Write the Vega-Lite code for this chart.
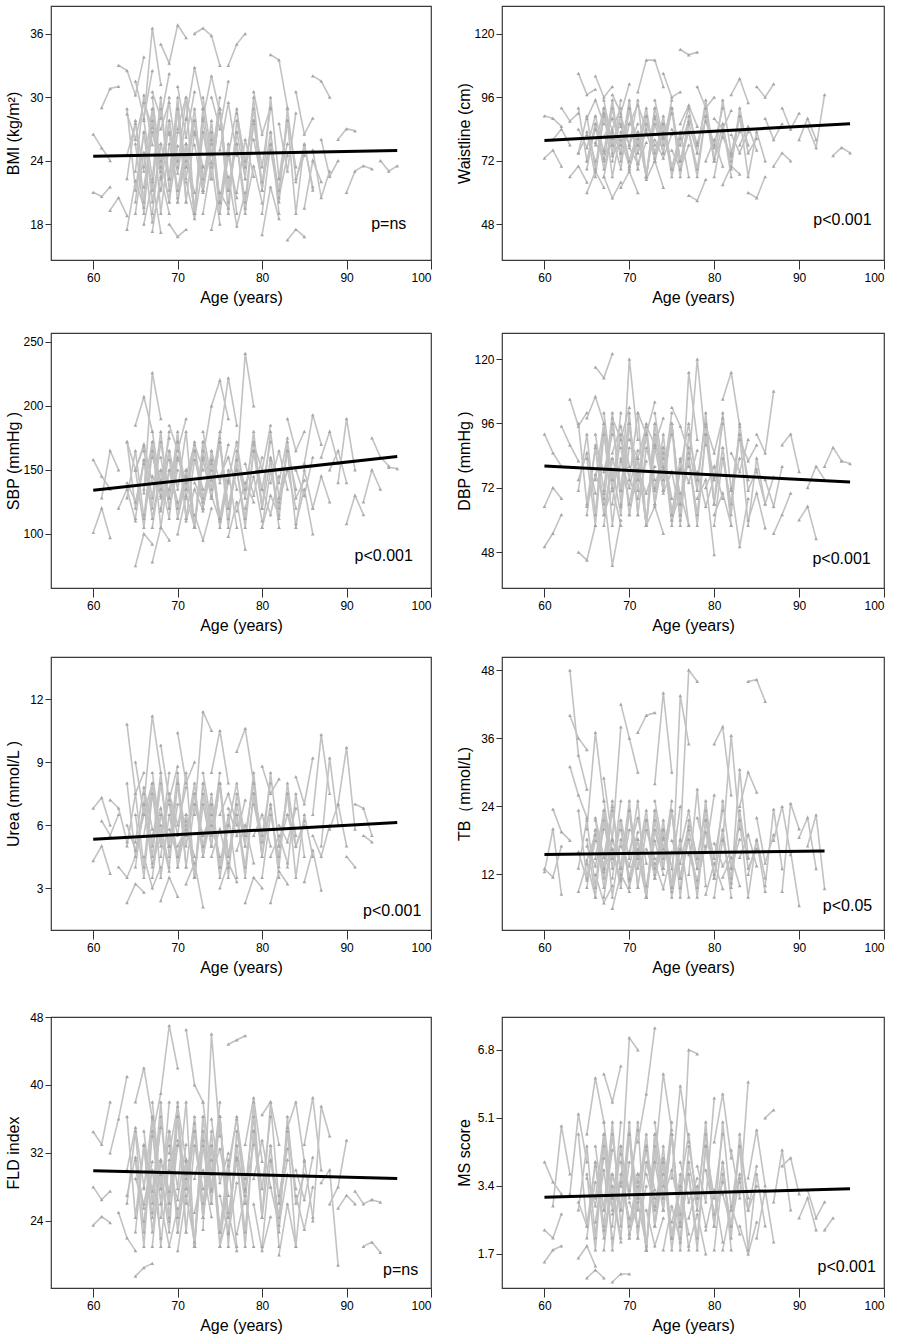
{
  "$schema": "https://vega.github.io/schema/vega-lite/v6.json",
  "padding": {"left": 4, "top": 5, "right": 0, "bottom": 0},
  "background": "white",
  "config": {
    "font": "Liberation Sans",
    "view": {"stroke": "#3a3a3a", "strokeWidth": 1.2},
    "axis": {"grid": false, "domain": false, "labelFont": "Liberation Sans", "labelFontSize": 12, "labelColor": "#000", "titleFont": "Liberation Sans", "titleFontSize": 16, "titleFontWeight": "normal", "titleColor": "#000", "tickColor": "#333"},
    "axisX": {"tickSize": 9, "labelPadding": 3, "titlePadding": 6},
    "axisY": {"tickSize": 6, "labelPadding": 2, "minExtent": 24, "maxExtent": 24, "titlePadding": 6},
    "line": {"color": "#c2c2c2", "strokeWidth": 1.6},
    "concat": {"spacing": 22}
  },
  "datasets": {
    "fit": [
      {"p": "bmi", "a": 60, "v": 24.4}, {"p": "bmi", "a": 96, "v": 24.95},
      {"p": "waist", "a": 60, "v": 79.7}, {"p": "waist", "a": 96, "v": 86.0},
      {"p": "sbp", "a": 60, "v": 134}, {"p": "sbp", "a": 96, "v": 160.5},
      {"p": "dbp", "a": 60, "v": 80.1}, {"p": "dbp", "a": 96, "v": 74.1},
      {"p": "urea", "a": 60, "v": 5.32}, {"p": "urea", "a": 96, "v": 6.12},
      {"p": "tb", "a": 60, "v": 15.5}, {"p": "tb", "a": 93, "v": 16.1},
      {"p": "fld", "a": 60, "v": 29.9}, {"p": "fld", "a": 96, "v": 29.0},
      {"p": "ms", "a": 60, "v": 3.12}, {"p": "ms", "a": 96, "v": 3.33}
    ],
    "lab": [
      {"p": "bmi", "a": 95, "v": 18, "t": "p=ns"},
      {"p": "waist", "a": 95.1, "v": 49.8, "t": "p<0.001"},
      {"p": "sbp", "a": 94.4, "v": 83, "t": "p<0.001"},
      {"p": "dbp", "a": 95.0, "v": 45.4, "t": "p<0.001"},
      {"p": "urea", "a": 95.4, "v": 1.9, "t": "p<0.001"},
      {"p": "tb", "a": 95.7, "v": 6.4, "t": "p<0.05"},
      {"p": "fld", "a": 96.4, "v": 18.2, "t": "p=ns"},
      {"p": "ms", "a": 95.6, "v": 1.38, "t": "p<0.001"}
    ],
    "bmi": [
      {"i":1,"a":60,"v":26.5},{"i":1,"a":61,"v":25.2},{"i":1,"a":62,"v":24.0},
      {"i":2,"a":60,"v":21.0},{"i":2,"a":61,"v":20.6},{"i":2,"a":62,"v":21.5},
      {"i":3,"a":61,"v":29.0},{"i":3,"a":62,"v":30.8},{"i":3,"a":63,"v":31.0},
      {"i":4,"a":62,"v":19.3},{"i":4,"a":63,"v":20.5},{"i":4,"a":64,"v":18.8},
      {"i":5,"a":63,"v":33.0},{"i":5,"a":64,"v":32.5},{"i":5,"a":65,"v":30.2},{"i":5,"a":66,"v":33.8},
      {"i":6,"a":64,"v":17.5},{"i":6,"a":65,"v":22.1},{"i":6,"a":66,"v":19.6},
      {"i":7,"a":64,"v":28.4},{"i":7,"a":65,"v":26.0},{"i":7,"a":66,"v":29.5},{"i":7,"a":67,"v":27.1},
      {"i":8,"a":65,"v":23.0},{"i":8,"a":66,"v":30.2},{"i":8,"a":67,"v":25.5},
      {"i":9,"a":65,"v":19.0},{"i":9,"a":66,"v":24.8},{"i":9,"a":67,"v":18.2},{"i":9,"a":68,"v":21.4},
      {"i":10,"a":66,"v":27.8},{"i":10,"a":67,"v":36.5},{"i":10,"a":68,"v":31.2},
      {"i":11,"a":66,"v":21.5},{"i":11,"a":67,"v":26.7},{"i":11,"a":68,"v":23.0},
      {"i":12,"a":67,"v":17.3},{"i":12,"a":68,"v":22.5},{"i":12,"a":69,"v":19.0},
      {"i":13,"a":67,"v":30.5},{"i":13,"a":68,"v":28.0},{"i":13,"a":69,"v":32.2},
      {"i":14,"a":68,"v":24.0},{"i":14,"a":69,"v":20.1},{"i":14,"a":70,"v":25.4},
      {"i":15,"a":68,"v":35.0},{"i":15,"a":69,"v":33.2},{"i":15,"a":70,"v":36.8},{"i":15,"a":71,"v":35.6},
      {"i":16,"a":69,"v":26.5},{"i":16,"a":70,"v":22.8},{"i":16,"a":71,"v":27.9},
      {"i":17,"a":69,"v":18.0},{"i":17,"a":70,"v":16.8},{"i":17,"a":71,"v":17.5},
      {"i":18,"a":70,"v":31.0},{"i":18,"a":71,"v":26.2},{"i":18,"a":72,"v":30.5},
      {"i":19,"a":70,"v":20.5},{"i":19,"a":71,"v":24.0},{"i":19,"a":72,"v":21.0},
      {"i":20,"a":71,"v":28.0},{"i":20,"a":72,"v":32.8},{"i":20,"a":73,"v":29.0},
      {"i":21,"a":71,"v":22.0},{"i":21,"a":72,"v":18.5},{"i":21,"a":73,"v":23.5},
      {"i":22,"a":72,"v":36.0},{"i":22,"a":73,"v":36.5},{"i":22,"a":74,"v":35.8},{"i":22,"a":75,"v":33.0},
      {"i":23,"a":72,"v":25.5},{"i":23,"a":73,"v":21.0},{"i":23,"a":74,"v":26.0},
      {"i":24,"a":73,"v":19.0},{"i":24,"a":74,"v":23.8},{"i":24,"a":75,"v":18.0},
      {"i":25,"a":74,"v":30.0},{"i":25,"a":75,"v":27.0},{"i":25,"a":76,"v":31.5},
      {"i":26,"a":74,"v":17.5},{"i":26,"a":75,"v":21.0},{"i":26,"a":76,"v":19.5},
      {"i":27,"a":75,"v":25.0},{"i":27,"a":76,"v":29.5},{"i":27,"a":77,"v":24.5},
      {"i":28,"a":76,"v":22.5},{"i":28,"a":77,"v":17.8},{"i":28,"a":78,"v":21.0},
      {"i":29,"a":76,"v":33.0},{"i":29,"a":77,"v":35.0},{"i":29,"a":78,"v":36.0},
      {"i":30,"a":77,"v":28.5},{"i":30,"a":78,"v":24.0},{"i":30,"a":79,"v":27.5},
      {"i":31,"a":78,"v":19.5},{"i":31,"a":79,"v":23.5},{"i":31,"a":80,"v":20.0},
      {"i":32,"a":79,"v":30.5},{"i":32,"a":80,"v":26.5},{"i":32,"a":81,"v":29.0},
      {"i":33,"a":80,"v":17.0},{"i":33,"a":81,"v":21.5},{"i":33,"a":82,"v":18.5},
      {"i":34,"a":81,"v":34.0},{"i":34,"a":82,"v":33.5},{"i":34,"a":83,"v":29.0},
      {"i":35,"a":81,"v":25.0},{"i":35,"a":82,"v":20.5},{"i":35,"a":83,"v":24.5},
      {"i":36,"a":82,"v":27.5},{"i":36,"a":83,"v":23.0},{"i":36,"a":84,"v":28.5},
      {"i":37,"a":83,"v":16.5},{"i":37,"a":84,"v":17.5},{"i":37,"a":85,"v":16.8},
      {"i":38,"a":84,"v":30.5},{"i":38,"a":85,"v":26.5},{"i":38,"a":86,"v":28.0},
      {"i":39,"a":84,"v":22.0},{"i":39,"a":85,"v":25.5},{"i":39,"a":86,"v":21.5},
      {"i":40,"a":85,"v":19.5},{"i":40,"a":86,"v":24.0},{"i":40,"a":87,"v":22.0},
      {"i":41,"a":86,"v":32.0},{"i":41,"a":87,"v":31.5},{"i":41,"a":88,"v":30.0},
      {"i":42,"a":87,"v":26.0},{"i":42,"a":88,"v":22.5},{"i":42,"a":89,"v":24.0},
      {"i":43,"a":89,"v":26.0},{"i":43,"a":90,"v":27.0},{"i":43,"a":91,"v":26.8},
      {"i":44,"a":90,"v":21.0},{"i":44,"a":91,"v":23.0},{"i":44,"a":92,"v":23.5},{"i":44,"a":93,"v":23.2},
      {"i":45,"a":94,"v":24.0},{"i":45,"a":95,"v":23.0},{"i":45,"a":96,"v":23.5},
      {"i":46,"a":64,"v":24.5},{"i":46,"a":65,"v":27.5},{"i":46,"a":66,"v":23.0},
      {"i":47,"a":66,"v":18.0},{"i":47,"a":67,"v":22.0},{"i":47,"a":68,"v":17.2},
      {"i":48,"a":70,"v":27.0},{"i":48,"a":71,"v":30.0},{"i":48,"a":72,"v":26.5},
      {"i":49,"a":73,"v":28.0},{"i":49,"a":74,"v":32.0},{"i":49,"a":75,"v":28.5},
      {"i":50,"a":77,"v":21.0},{"i":50,"a":78,"v":26.0},{"i":50,"a":79,"v":22.5},
      {"i":51,"a":65,"v":31.5},{"i":51,"a":66,"v":28.0},{"i":51,"a":67,"v":32.5},
      {"i":52,"a":68,"v":27.0},{"i":52,"a":69,"v":29.5},{"i":52,"a":70,"v":24.0},
      {"i":53,"a":75,"v":20.0},{"i":53,"a":76,"v":24.5},{"i":53,"a":77,"v":20.5},
      {"i":54,"a":79,"v":26.0},{"i":54,"a":80,"v":22.0},{"i":54,"a":81,"v":25.5},
      {"i":55,"a":86,"v":25.0},{"i":55,"a":87,"v":20.5},{"i":55,"a":88,"v":23.0},
      {"i":101,"a":64,"v":28.9},{"i":101,"a":65,"v":21.2},{"i":101,"a":66,"v":26.7},{"i":101,"a":67,"v":20.1},{"i":101,"a":68,"v":25.6},
      {"i":102,"a":64,"v":22.3},{"i":102,"a":65,"v":27.8},{"i":102,"a":66,"v":20.1},{"i":102,"a":67,"v":28.9},{"i":102,"a":68,"v":23.4},
      {"i":103,"a":65,"v":25.6},{"i":103,"a":66,"v":19.0},{"i":103,"a":67,"v":27.8},{"i":103,"a":68,"v":22.3},{"i":103,"a":69,"v":30.0},
      {"i":104,"a":65,"v":20.1},{"i":104,"a":66,"v":26.7},{"i":104,"a":67,"v":21.2},{"i":104,"a":68,"v":28.9},{"i":104,"a":69,"v":22.3},
      {"i":105,"a":66,"v":27.8},{"i":105,"a":67,"v":22.3},{"i":105,"a":68,"v":30.0},{"i":105,"a":69,"v":21.2},{"i":105,"a":70,"v":26.7},
      {"i":106,"a":66,"v":23.4},{"i":106,"a":67,"v":28.9},{"i":106,"a":68,"v":19.0},{"i":106,"a":69,"v":25.6},{"i":106,"a":70,"v":21.2},
      {"i":107,"a":67,"v":19.0},{"i":107,"a":68,"v":25.6},{"i":107,"a":69,"v":22.3},{"i":107,"a":70,"v":28.9},{"i":107,"a":71,"v":20.1},
      {"i":108,"a":67,"v":30.0},{"i":108,"a":68,"v":23.4},{"i":108,"a":69,"v":27.8},{"i":108,"a":70,"v":20.1},{"i":108,"a":71,"v":24.5},
      {"i":109,"a":68,"v":24.5},{"i":109,"a":69,"v":20.1},{"i":109,"a":70,"v":28.9},{"i":109,"a":71,"v":22.3},{"i":109,"a":72,"v":27.8},
      {"i":110,"a":68,"v":21.2},{"i":110,"a":69,"v":27.8},{"i":110,"a":70,"v":23.4},{"i":110,"a":71,"v":30.0},{"i":110,"a":72,"v":19.0},
      {"i":111,"a":69,"v":26.7},{"i":111,"a":70,"v":21.2},{"i":111,"a":71,"v":25.6},{"i":111,"a":72,"v":19.0},{"i":111,"a":73,"v":28.9},
      {"i":112,"a":69,"v":22.3},{"i":112,"a":70,"v":30.0},{"i":112,"a":71,"v":20.1},{"i":112,"a":72,"v":26.7},{"i":112,"a":73,"v":23.4},
      {"i":113,"a":70,"v":28.9},{"i":113,"a":71,"v":23.4},{"i":113,"a":72,"v":27.8},{"i":113,"a":73,"v":21.2},{"i":113,"a":74,"v":25.6},
      {"i":114,"a":70,"v":20.1},{"i":114,"a":71,"v":25.6},{"i":114,"a":72,"v":19.0},{"i":114,"a":73,"v":27.8},{"i":114,"a":74,"v":22.3},
      {"i":115,"a":71,"v":25.6},{"i":115,"a":72,"v":19.0},{"i":115,"a":73,"v":28.9},{"i":115,"a":74,"v":23.4},{"i":115,"a":75,"v":30.0},
      {"i":116,"a":71,"v":23.4},{"i":116,"a":72,"v":28.9},{"i":116,"a":73,"v":21.2},{"i":116,"a":74,"v":26.7},{"i":116,"a":75,"v":20.1},
      {"i":117,"a":72,"v":27.8},{"i":117,"a":73,"v":22.3},{"i":117,"a":74,"v":26.7},{"i":117,"a":75,"v":19.0},{"i":117,"a":76,"v":24.5},
      {"i":118,"a":72,"v":19.0},{"i":118,"a":73,"v":26.7},{"i":118,"a":74,"v":22.3},{"i":118,"a":75,"v":28.9},{"i":118,"a":76,"v":21.2},
      {"i":119,"a":73,"v":30.0},{"i":119,"a":74,"v":24.5},{"i":119,"a":75,"v":28.9},{"i":119,"a":76,"v":21.2},{"i":119,"a":77,"v":26.7},
      {"i":120,"a":73,"v":21.2},{"i":120,"a":74,"v":27.8},{"i":120,"a":75,"v":20.1},{"i":120,"a":76,"v":25.6},{"i":120,"a":77,"v":19.0},
      {"i":121,"a":74,"v":26.7},{"i":121,"a":75,"v":20.1},{"i":121,"a":76,"v":24.5},{"i":121,"a":77,"v":28.9},{"i":121,"a":78,"v":22.3},
      {"i":122,"a":74,"v":22.3},{"i":122,"a":75,"v":28.9},{"i":122,"a":76,"v":19.0},{"i":122,"a":77,"v":27.8},{"i":122,"a":78,"v":23.4},
      {"i":123,"a":75,"v":28.9},{"i":123,"a":76,"v":21.2},{"i":123,"a":77,"v":25.6},{"i":123,"a":78,"v":20.1},{"i":123,"a":79,"v":27.8},
      {"i":124,"a":76,"v":20.1},{"i":124,"a":77,"v":26.7},{"i":124,"a":78,"v":22.3},{"i":124,"a":79,"v":30.0},{"i":124,"a":80,"v":21.2},
      {"i":125,"a":77,"v":25.6},{"i":125,"a":78,"v":19.0},{"i":125,"a":79,"v":27.8},{"i":125,"a":80,"v":23.4},{"i":125,"a":81,"v":28.9},
      {"i":126,"a":78,"v":23.4},{"i":126,"a":79,"v":28.9},{"i":126,"a":80,"v":21.2},{"i":126,"a":81,"v":26.7},{"i":126,"a":82,"v":19.0},
      {"i":127,"a":79,"v":27.8},{"i":127,"a":80,"v":21.2},{"i":127,"a":81,"v":30.0},{"i":127,"a":82,"v":22.3},{"i":127,"a":83,"v":25.6},
      {"i":128,"a":80,"v":19.0},{"i":128,"a":81,"v":25.6},{"i":128,"a":82,"v":21.2},{"i":128,"a":83,"v":27.8},{"i":128,"a":84,"v":23.4},
      {"i":129,"a":81,"v":26.7},{"i":129,"a":82,"v":20.1},{"i":129,"a":83,"v":28.9},{"i":129,"a":84,"v":22.3},{"i":129,"a":85,"v":24.5},
      {"i":130,"a":82,"v":22.3},{"i":130,"a":83,"v":27.8},{"i":130,"a":84,"v":19.0},{"i":130,"a":85,"v":25.6},{"i":130,"a":86,"v":21.2}
    ],
    "waist": [
      {"i":1,"a":60,"v":89},{"i":1,"a":61,"v":88},{"i":1,"a":62,"v":85},
      {"i":2,"a":60,"v":73},{"i":2,"a":61,"v":76},{"i":2,"a":62,"v":70},
      {"i":3,"a":61,"v":80},{"i":3,"a":62,"v":84},{"i":3,"a":63,"v":78},
      {"i":4,"a":62,"v":92},{"i":4,"a":63,"v":87},{"i":4,"a":64,"v":90},
      {"i":5,"a":63,"v":66},{"i":5,"a":64,"v":70},{"i":5,"a":65,"v":64},
      {"i":6,"a":64,"v":105},{"i":6,"a":65,"v":97},{"i":6,"a":66,"v":99},
      {"i":7,"a":64,"v":75},{"i":7,"a":65,"v":82},{"i":7,"a":66,"v":72},
      {"i":8,"a":65,"v":60},{"i":8,"a":66,"v":68},{"i":8,"a":67,"v":62},
      {"i":9,"a":65,"v":88},{"i":9,"a":66,"v":95},{"i":9,"a":67,"v":86},
      {"i":10,"a":66,"v":104},{"i":10,"a":67,"v":96},{"i":10,"a":68,"v":100},
      {"i":11,"a":66,"v":79},{"i":11,"a":67,"v":73},{"i":11,"a":68,"v":81},
      {"i":12,"a":67,"v":66},{"i":12,"a":68,"v":58},{"i":12,"a":69,"v":64},
      {"i":13,"a":67,"v":90},{"i":13,"a":68,"v":84},{"i":13,"a":69,"v":92},
      {"i":14,"a":68,"v":97},{"i":14,"a":69,"v":90},{"i":14,"a":70,"v":101},
      {"i":15,"a":68,"v":74},{"i":15,"a":69,"v":80},{"i":15,"a":70,"v":70},
      {"i":16,"a":69,"v":62},{"i":16,"a":70,"v":68},{"i":16,"a":71,"v":60},
      {"i":17,"a":70,"v":86},{"i":17,"a":71,"v":93},{"i":17,"a":72,"v":84},
      {"i":18,"a":70,"v":77},{"i":18,"a":71,"v":71},{"i":18,"a":72,"v":79},
      {"i":19,"a":71,"v":98},{"i":19,"a":72,"v":110},{"i":19,"a":73,"v":110},{"i":19,"a":74,"v":100},
      {"i":20,"a":72,"v":65},{"i":20,"a":73,"v":72},{"i":20,"a":74,"v":62},
      {"i":21,"a":73,"v":88},{"i":21,"a":74,"v":81},{"i":21,"a":75,"v":90},
      {"i":22,"a":74,"v":105},{"i":22,"a":75,"v":96},{"i":22,"a":76,"v":98},
      {"i":23,"a":75,"v":76},{"i":23,"a":76,"v":69},{"i":23,"a":77,"v":78},
      {"i":24,"a":76,"v":114},{"i":24,"a":77,"v":112},{"i":24,"a":78,"v":113},
      {"i":25,"a":76,"v":86},{"i":25,"a":77,"v":93},{"i":25,"a":78,"v":85},
      {"i":26,"a":77,"v":59},{"i":26,"a":78,"v":57},{"i":26,"a":79,"v":65},
      {"i":27,"a":78,"v":100},{"i":27,"a":79,"v":92},{"i":27,"a":80,"v":96},
      {"i":28,"a":79,"v":72},{"i":28,"a":80,"v":80},{"i":28,"a":81,"v":70},
      {"i":29,"a":80,"v":88},{"i":29,"a":81,"v":84},{"i":29,"a":82,"v":91},
      {"i":30,"a":81,"v":63},{"i":30,"a":82,"v":70},{"i":30,"a":83,"v":67},
      {"i":31,"a":82,"v":97},{"i":31,"a":83,"v":103},{"i":31,"a":84,"v":94},
      {"i":32,"a":83,"v":78},{"i":32,"a":84,"v":85},{"i":32,"a":85,"v":76},
      {"i":33,"a":84,"v":60},{"i":33,"a":85,"v":58},{"i":33,"a":86,"v":66},
      {"i":34,"a":85,"v":100},{"i":34,"a":86,"v":96},{"i":34,"a":87,"v":101},
      {"i":35,"a":86,"v":88},{"i":35,"a":87,"v":80},{"i":35,"a":88,"v":86},
      {"i":36,"a":87,"v":70},{"i":36,"a":88,"v":75},{"i":36,"a":89,"v":72},
      {"i":37,"a":88,"v":92},{"i":37,"a":89,"v":84},{"i":37,"a":90,"v":90},
      {"i":38,"a":90,"v":80},{"i":38,"a":91,"v":88},{"i":38,"a":92,"v":80},
      {"i":39,"a":91,"v":85},{"i":39,"a":92,"v":77},{"i":39,"a":93,"v":97},
      {"i":40,"a":94,"v":74},{"i":40,"a":95,"v":77},{"i":40,"a":96,"v":75},
      {"i":41,"a":64,"v":84},{"i":41,"a":65,"v":77},{"i":41,"a":66,"v":89},
      {"i":42,"a":67,"v":81},{"i":42,"a":68,"v":88},{"i":42,"a":69,"v":78},
      {"i":43,"a":71,"v":75},{"i":43,"a":72,"v":83},{"i":43,"a":73,"v":73},
      {"i":44,"a":75,"v":84},{"i":44,"a":76,"v":78},{"i":44,"a":77,"v":87},
      {"i":45,"a":78,"v":79},{"i":45,"a":79,"v":87},{"i":45,"a":80,"v":77},
      {"i":46,"a":82,"v":82},{"i":46,"a":83,"v":75},{"i":46,"a":84,"v":83},
      {"i":47,"a":69,"v":85},{"i":47,"a":70,"v":78},{"i":47,"a":71,"v":86},
      {"i":48,"a":73,"v":80},{"i":48,"a":74,"v":73},{"i":48,"a":75,"v":82},
      {"i":49,"a":80,"v":73},{"i":49,"a":81,"v":81},{"i":49,"a":82,"v":74},
      {"i":50,"a":65,"v":72},{"i":50,"a":66,"v":84},{"i":50,"a":67,"v":76},
      {"i":101,"a":64,"v":92},{"i":101,"a":65,"v":72},{"i":101,"a":66,"v":86},{"i":101,"a":67,"v":69},{"i":101,"a":68,"v":83},
      {"i":102,"a":64,"v":75},{"i":102,"a":65,"v":89},{"i":102,"a":66,"v":69},{"i":102,"a":67,"v":92},{"i":102,"a":68,"v":78},
      {"i":103,"a":65,"v":83},{"i":103,"a":66,"v":66},{"i":103,"a":67,"v":89},{"i":103,"a":68,"v":75},{"i":103,"a":69,"v":95},
      {"i":104,"a":65,"v":69},{"i":104,"a":66,"v":86},{"i":104,"a":67,"v":72},{"i":104,"a":68,"v":92},{"i":104,"a":69,"v":75},
      {"i":105,"a":66,"v":89},{"i":105,"a":67,"v":75},{"i":105,"a":68,"v":95},{"i":105,"a":69,"v":72},{"i":105,"a":70,"v":86},
      {"i":106,"a":66,"v":78},{"i":106,"a":67,"v":92},{"i":106,"a":68,"v":66},{"i":106,"a":69,"v":83},{"i":106,"a":70,"v":72},
      {"i":107,"a":67,"v":66},{"i":107,"a":68,"v":83},{"i":107,"a":69,"v":75},{"i":107,"a":70,"v":92},{"i":107,"a":71,"v":69},
      {"i":108,"a":67,"v":95},{"i":108,"a":68,"v":78},{"i":108,"a":69,"v":89},{"i":108,"a":70,"v":69},{"i":108,"a":71,"v":80.5},
      {"i":109,"a":68,"v":80.5},{"i":109,"a":69,"v":69},{"i":109,"a":70,"v":92},{"i":109,"a":71,"v":75},{"i":109,"a":72,"v":89},
      {"i":110,"a":68,"v":72},{"i":110,"a":69,"v":89},{"i":110,"a":70,"v":78},{"i":110,"a":71,"v":95},{"i":110,"a":72,"v":66},
      {"i":111,"a":69,"v":86},{"i":111,"a":70,"v":72},{"i":111,"a":71,"v":83},{"i":111,"a":72,"v":66},{"i":111,"a":73,"v":92},
      {"i":112,"a":69,"v":75},{"i":112,"a":70,"v":95},{"i":112,"a":71,"v":69},{"i":112,"a":72,"v":86},{"i":112,"a":73,"v":78},
      {"i":113,"a":70,"v":92},{"i":113,"a":71,"v":78},{"i":113,"a":72,"v":89},{"i":113,"a":73,"v":72},{"i":113,"a":74,"v":83},
      {"i":114,"a":70,"v":69},{"i":114,"a":71,"v":83},{"i":114,"a":72,"v":66},{"i":114,"a":73,"v":89},{"i":114,"a":74,"v":75},
      {"i":115,"a":71,"v":83},{"i":115,"a":72,"v":66},{"i":115,"a":73,"v":92},{"i":115,"a":74,"v":78},{"i":115,"a":75,"v":95},
      {"i":116,"a":71,"v":78},{"i":116,"a":72,"v":92},{"i":116,"a":73,"v":72},{"i":116,"a":74,"v":86},{"i":116,"a":75,"v":69},
      {"i":117,"a":72,"v":89},{"i":117,"a":73,"v":75},{"i":117,"a":74,"v":86},{"i":117,"a":75,"v":66},{"i":117,"a":76,"v":80.5},
      {"i":118,"a":72,"v":66},{"i":118,"a":73,"v":86},{"i":118,"a":74,"v":75},{"i":118,"a":75,"v":92},{"i":118,"a":76,"v":72},
      {"i":119,"a":73,"v":95},{"i":119,"a":74,"v":80.5},{"i":119,"a":75,"v":92},{"i":119,"a":76,"v":72},{"i":119,"a":77,"v":86},
      {"i":120,"a":73,"v":72},{"i":120,"a":74,"v":89},{"i":120,"a":75,"v":69},{"i":120,"a":76,"v":83},{"i":120,"a":77,"v":66},
      {"i":121,"a":74,"v":86},{"i":121,"a":75,"v":69},{"i":121,"a":76,"v":80.5},{"i":121,"a":77,"v":92},{"i":121,"a":78,"v":75},
      {"i":122,"a":74,"v":75},{"i":122,"a":75,"v":92},{"i":122,"a":76,"v":66},{"i":122,"a":77,"v":89},{"i":122,"a":78,"v":78},
      {"i":123,"a":75,"v":92},{"i":123,"a":76,"v":72},{"i":123,"a":77,"v":83},{"i":123,"a":78,"v":69},{"i":123,"a":79,"v":89},
      {"i":124,"a":76,"v":69},{"i":124,"a":77,"v":86},{"i":124,"a":78,"v":75},{"i":124,"a":79,"v":95},{"i":124,"a":80,"v":72},
      {"i":125,"a":77,"v":83},{"i":125,"a":78,"v":66},{"i":125,"a":79,"v":89},{"i":125,"a":80,"v":78},{"i":125,"a":81,"v":92},
      {"i":126,"a":78,"v":78},{"i":126,"a":79,"v":92},{"i":126,"a":80,"v":72},{"i":126,"a":81,"v":86},{"i":126,"a":82,"v":66},
      {"i":127,"a":79,"v":89},{"i":127,"a":80,"v":72},{"i":127,"a":81,"v":95},{"i":127,"a":82,"v":75},{"i":127,"a":83,"v":83},
      {"i":128,"a":80,"v":66},{"i":128,"a":81,"v":83},{"i":128,"a":82,"v":72},{"i":128,"a":83,"v":89},{"i":128,"a":84,"v":78},
      {"i":129,"a":81,"v":86},{"i":129,"a":82,"v":69},{"i":129,"a":83,"v":92},{"i":129,"a":84,"v":75},{"i":129,"a":85,"v":80.5},
      {"i":130,"a":82,"v":75},{"i":130,"a":83,"v":89},{"i":130,"a":84,"v":66},{"i":130,"a":85,"v":83},{"i":130,"a":86,"v":72}
    ],
    "sbp": [
      {"i":1,"a":60,"v":158},{"i":1,"a":61,"v":145},{"i":1,"a":62,"v":135},
      {"i":2,"a":60,"v":101},{"i":2,"a":61,"v":120},{"i":2,"a":62,"v":97},
      {"i":3,"a":61,"v":128},{"i":3,"a":62,"v":165},{"i":3,"a":63,"v":150},
      {"i":4,"a":63,"v":120},{"i":4,"a":64,"v":135},{"i":4,"a":65,"v":110},
      {"i":5,"a":64,"v":172},{"i":5,"a":65,"v":150},{"i":5,"a":66,"v":168},
      {"i":6,"a":65,"v":75},{"i":6,"a":66,"v":100},{"i":6,"a":67,"v":92},
      {"i":7,"a":65,"v":185},{"i":7,"a":66,"v":207},{"i":7,"a":67,"v":180},
      {"i":8,"a":66,"v":132},{"i":8,"a":67,"v":226},{"i":8,"a":68,"v":190},
      {"i":9,"a":67,"v":78},{"i":9,"a":68,"v":105},{"i":9,"a":69,"v":95},
      {"i":10,"a":67,"v":160},{"i":10,"a":68,"v":140},{"i":10,"a":69,"v":175},
      {"i":11,"a":68,"v":118},{"i":11,"a":69,"v":150},{"i":11,"a":70,"v":125},
      {"i":12,"a":69,"v":185},{"i":12,"a":70,"v":165},{"i":12,"a":71,"v":190},
      {"i":13,"a":70,"v":100},{"i":13,"a":71,"v":130},{"i":13,"a":72,"v":105},
      {"i":14,"a":71,"v":145},{"i":14,"a":72,"v":170},{"i":14,"a":73,"v":150},
      {"i":15,"a":72,"v":115},{"i":15,"a":73,"v":95},{"i":15,"a":74,"v":120},
      {"i":16,"a":73,"v":160},{"i":16,"a":74,"v":200},{"i":16,"a":75,"v":220},{"i":16,"a":76,"v":190},
      {"i":17,"a":74,"v":130},{"i":17,"a":75,"v":110},{"i":17,"a":76,"v":140},
      {"i":18,"a":75,"v":175},{"i":18,"a":76,"v":222},{"i":18,"a":77,"v":185},
      {"i":19,"a":76,"v":98},{"i":19,"a":77,"v":125},{"i":19,"a":78,"v":88},
      {"i":20,"a":77,"v":150},{"i":20,"a":78,"v":241},{"i":20,"a":79,"v":200},
      {"i":21,"a":78,"v":120},{"i":21,"a":79,"v":145},{"i":21,"a":80,"v":110},
      {"i":22,"a":79,"v":170},{"i":22,"a":80,"v":150},{"i":22,"a":81,"v":185},
      {"i":23,"a":80,"v":105},{"i":23,"a":81,"v":130},{"i":23,"a":82,"v":115},
      {"i":24,"a":81,"v":160},{"i":24,"a":82,"v":140},{"i":24,"a":83,"v":175},
      {"i":25,"a":82,"v":125},{"i":25,"a":83,"v":150},{"i":25,"a":84,"v":120},
      {"i":26,"a":83,"v":190},{"i":26,"a":84,"v":165},{"i":26,"a":85,"v":180},
      {"i":27,"a":84,"v":108},{"i":27,"a":85,"v":135},{"i":27,"a":86,"v":100},
      {"i":28,"a":85,"v":155},{"i":28,"a":86,"v":193},{"i":28,"a":87,"v":170},
      {"i":29,"a":86,"v":120},{"i":29,"a":87,"v":145},{"i":29,"a":88,"v":125},
      {"i":30,"a":87,"v":160},{"i":30,"a":88,"v":180},{"i":30,"a":89,"v":155},
      {"i":31,"a":89,"v":140},{"i":31,"a":90,"v":190},{"i":31,"a":91,"v":150},
      {"i":32,"a":90,"v":108},{"i":32,"a":91,"v":130},{"i":32,"a":92,"v":115},
      {"i":33,"a":92,"v":125},{"i":33,"a":93,"v":150},{"i":33,"a":94,"v":135},
      {"i":34,"a":93,"v":175},{"i":34,"a":94,"v":160},{"i":34,"a":95,"v":153},
      {"i":35,"a":95,"v":152},{"i":35,"a":96,"v":151},
      {"i":36,"a":64,"v":140},{"i":36,"a":65,"v":125},{"i":36,"a":66,"v":155},
      {"i":37,"a":66,"v":115},{"i":37,"a":67,"v":145},{"i":37,"a":68,"v":130},
      {"i":38,"a":69,"v":135},{"i":38,"a":70,"v":160},{"i":38,"a":71,"v":140},
      {"i":39,"a":72,"v":140},{"i":39,"a":73,"v":125},{"i":39,"a":74,"v":155},
      {"i":40,"a":75,"v":145},{"i":40,"a":76,"v":160},{"i":40,"a":77,"v":135},
      {"i":41,"a":78,"v":155},{"i":41,"a":79,"v":130},{"i":41,"a":80,"v":160},
      {"i":42,"a":81,"v":140},{"i":42,"a":82,"v":165},{"i":42,"a":83,"v":135},
      {"i":43,"a":84,"v":150},{"i":43,"a":85,"v":130},{"i":43,"a":86,"v":160},
      {"i":44,"a":68,"v":160},{"i":44,"a":69,"v":120},{"i":44,"a":70,"v":150},
      {"i":45,"a":71,"v":110},{"i":45,"a":72,"v":135},{"i":45,"a":73,"v":118},
      {"i":46,"a":74,"v":165},{"i":46,"a":75,"v":140},{"i":46,"a":76,"v":170},
      {"i":47,"a":77,"v":118},{"i":47,"a":78,"v":140},{"i":47,"a":79,"v":125},
      {"i":48,"a":80,"v":135},{"i":48,"a":81,"v":115},{"i":48,"a":82,"v":145},
      {"i":49,"a":65,"v":150},{"i":49,"a":66,"v":170},{"i":49,"a":67,"v":140},
      {"i":50,"a":88,"v":150},{"i":50,"a":89,"v":165},{"i":50,"a":90,"v":140},
      {"i":101,"a":64,"v":172},{"i":101,"a":65,"v":120},{"i":101,"a":66,"v":158},{"i":101,"a":67,"v":112},{"i":101,"a":68,"v":150},
      {"i":102,"a":64,"v":128},{"i":102,"a":65,"v":165},{"i":102,"a":66,"v":112},{"i":102,"a":67,"v":172},{"i":102,"a":68,"v":135},
      {"i":103,"a":65,"v":150},{"i":103,"a":66,"v":105},{"i":103,"a":67,"v":165},{"i":103,"a":68,"v":128},{"i":103,"a":69,"v":180},
      {"i":104,"a":65,"v":112},{"i":104,"a":66,"v":158},{"i":104,"a":67,"v":120},{"i":104,"a":68,"v":172},{"i":104,"a":69,"v":128},
      {"i":105,"a":66,"v":165},{"i":105,"a":67,"v":128},{"i":105,"a":68,"v":180},{"i":105,"a":69,"v":120},{"i":105,"a":70,"v":158},
      {"i":106,"a":66,"v":135},{"i":106,"a":67,"v":172},{"i":106,"a":68,"v":105},{"i":106,"a":69,"v":150},{"i":106,"a":70,"v":120},
      {"i":107,"a":67,"v":105},{"i":107,"a":68,"v":150},{"i":107,"a":69,"v":128},{"i":107,"a":70,"v":172},{"i":107,"a":71,"v":112},
      {"i":108,"a":67,"v":180},{"i":108,"a":68,"v":135},{"i":108,"a":69,"v":165},{"i":108,"a":70,"v":112},{"i":108,"a":71,"v":142},
      {"i":109,"a":68,"v":142},{"i":109,"a":69,"v":112},{"i":109,"a":70,"v":172},{"i":109,"a":71,"v":128},{"i":109,"a":72,"v":165},
      {"i":110,"a":68,"v":120},{"i":110,"a":69,"v":165},{"i":110,"a":70,"v":135},{"i":110,"a":71,"v":180},{"i":110,"a":72,"v":105},
      {"i":111,"a":69,"v":158},{"i":111,"a":70,"v":120},{"i":111,"a":71,"v":150},{"i":111,"a":72,"v":105},{"i":111,"a":73,"v":172},
      {"i":112,"a":69,"v":128},{"i":112,"a":70,"v":180},{"i":112,"a":71,"v":112},{"i":112,"a":72,"v":158},{"i":112,"a":73,"v":135},
      {"i":113,"a":70,"v":172},{"i":113,"a":71,"v":135},{"i":113,"a":72,"v":165},{"i":113,"a":73,"v":120},{"i":113,"a":74,"v":150},
      {"i":114,"a":70,"v":112},{"i":114,"a":71,"v":150},{"i":114,"a":72,"v":105},{"i":114,"a":73,"v":165},{"i":114,"a":74,"v":128},
      {"i":115,"a":71,"v":150},{"i":115,"a":72,"v":105},{"i":115,"a":73,"v":172},{"i":115,"a":74,"v":135},{"i":115,"a":75,"v":180},
      {"i":116,"a":71,"v":135},{"i":116,"a":72,"v":172},{"i":116,"a":73,"v":120},{"i":116,"a":74,"v":158},{"i":116,"a":75,"v":112},
      {"i":117,"a":72,"v":165},{"i":117,"a":73,"v":128},{"i":117,"a":74,"v":158},{"i":117,"a":75,"v":105},{"i":117,"a":76,"v":142},
      {"i":118,"a":72,"v":105},{"i":118,"a":73,"v":158},{"i":118,"a":74,"v":128},{"i":118,"a":75,"v":172},{"i":118,"a":76,"v":120},
      {"i":119,"a":73,"v":180},{"i":119,"a":74,"v":142},{"i":119,"a":75,"v":172},{"i":119,"a":76,"v":120},{"i":119,"a":77,"v":158},
      {"i":120,"a":73,"v":120},{"i":120,"a":74,"v":165},{"i":120,"a":75,"v":112},{"i":120,"a":76,"v":150},{"i":120,"a":77,"v":105},
      {"i":121,"a":74,"v":158},{"i":121,"a":75,"v":112},{"i":121,"a":76,"v":142},{"i":121,"a":77,"v":172},{"i":121,"a":78,"v":128},
      {"i":122,"a":74,"v":128},{"i":122,"a":75,"v":172},{"i":122,"a":76,"v":105},{"i":122,"a":77,"v":165},{"i":122,"a":78,"v":135},
      {"i":123,"a":75,"v":172},{"i":123,"a":76,"v":120},{"i":123,"a":77,"v":150},{"i":123,"a":78,"v":112},{"i":123,"a":79,"v":165},
      {"i":124,"a":76,"v":112},{"i":124,"a":77,"v":158},{"i":124,"a":78,"v":128},{"i":124,"a":79,"v":180},{"i":124,"a":80,"v":120},
      {"i":125,"a":77,"v":150},{"i":125,"a":78,"v":105},{"i":125,"a":79,"v":165},{"i":125,"a":80,"v":135},{"i":125,"a":81,"v":172},
      {"i":126,"a":78,"v":135},{"i":126,"a":79,"v":172},{"i":126,"a":80,"v":120},{"i":126,"a":81,"v":158},{"i":126,"a":82,"v":105},
      {"i":127,"a":79,"v":165},{"i":127,"a":80,"v":120},{"i":127,"a":81,"v":180},{"i":127,"a":82,"v":128},{"i":127,"a":83,"v":150},
      {"i":128,"a":80,"v":105},{"i":128,"a":81,"v":150},{"i":128,"a":82,"v":120},{"i":128,"a":83,"v":165},{"i":128,"a":84,"v":135},
      {"i":129,"a":81,"v":158},{"i":129,"a":82,"v":112},{"i":129,"a":83,"v":172},{"i":129,"a":84,"v":128},{"i":129,"a":85,"v":142},
      {"i":130,"a":82,"v":128},{"i":130,"a":83,"v":165},{"i":130,"a":84,"v":105},{"i":130,"a":85,"v":150},{"i":130,"a":86,"v":120}
    ],
    "dbp": [
      {"i":1,"a":60,"v":92},{"i":1,"a":61,"v":85},{"i":1,"a":62,"v":80},
      {"i":2,"a":60,"v":50},{"i":2,"a":61,"v":55},{"i":2,"a":62,"v":62},
      {"i":3,"a":60,"v":65},{"i":3,"a":61,"v":72},{"i":3,"a":62,"v":68},
      {"i":4,"a":62,"v":95},{"i":4,"a":63,"v":88},{"i":4,"a":64,"v":82},
      {"i":5,"a":63,"v":105},{"i":5,"a":64,"v":95},{"i":5,"a":65,"v":100},
      {"i":6,"a":64,"v":48},{"i":6,"a":65,"v":45},{"i":6,"a":66,"v":58},
      {"i":7,"a":65,"v":98},{"i":7,"a":66,"v":106},{"i":7,"a":67,"v":96},
      {"i":8,"a":66,"v":117},{"i":8,"a":67,"v":113},{"i":8,"a":68,"v":122},
      {"i":9,"a":67,"v":70},{"i":9,"a":68,"v":43},{"i":9,"a":69,"v":60},
      {"i":10,"a":68,"v":85},{"i":10,"a":69,"v":95},{"i":10,"a":70,"v":80},
      {"i":11,"a":69,"v":65},{"i":11,"a":70,"v":120},{"i":11,"a":71,"v":90},
      {"i":12,"a":70,"v":75},{"i":12,"a":71,"v":68},{"i":12,"a":72,"v":82},
      {"i":13,"a":71,"v":100},{"i":13,"a":72,"v":92},{"i":13,"a":73,"v":104},
      {"i":14,"a":72,"v":58},{"i":14,"a":73,"v":65},{"i":14,"a":74,"v":55},
      {"i":15,"a":73,"v":88},{"i":15,"a":74,"v":80},{"i":15,"a":75,"v":92},
      {"i":16,"a":74,"v":70},{"i":16,"a":75,"v":78},{"i":16,"a":76,"v":62},
      {"i":17,"a":75,"v":102},{"i":17,"a":76,"v":95},{"i":17,"a":77,"v":85},
      {"i":18,"a":76,"v":60},{"i":18,"a":77,"v":115},{"i":18,"a":78,"v":90},
      {"i":19,"a":77,"v":80},{"i":19,"a":78,"v":120},{"i":19,"a":79,"v":88},
      {"i":20,"a":78,"v":68},{"i":20,"a":79,"v":75},{"i":20,"a":80,"v":47},
      {"i":21,"a":79,"v":95},{"i":21,"a":80,"v":85},{"i":21,"a":81,"v":98},
      {"i":22,"a":80,"v":62},{"i":22,"a":81,"v":70},{"i":22,"a":82,"v":58},
      {"i":23,"a":81,"v":105},{"i":23,"a":82,"v":115},{"i":23,"a":83,"v":95},
      {"i":24,"a":82,"v":72},{"i":24,"a":83,"v":50},{"i":24,"a":84,"v":68},
      {"i":25,"a":83,"v":90},{"i":25,"a":84,"v":82},{"i":25,"a":85,"v":88},
      {"i":26,"a":84,"v":60},{"i":26,"a":85,"v":70},{"i":26,"a":86,"v":57},
      {"i":27,"a":85,"v":92},{"i":27,"a":86,"v":85},{"i":27,"a":87,"v":108},
      {"i":28,"a":86,"v":75},{"i":28,"a":87,"v":65},{"i":28,"a":88,"v":80},
      {"i":29,"a":87,"v":55},{"i":29,"a":88,"v":62},{"i":29,"a":89,"v":70},
      {"i":30,"a":88,"v":88},{"i":30,"a":89,"v":92},{"i":30,"a":90,"v":78},
      {"i":31,"a":90,"v":60},{"i":31,"a":91,"v":65},{"i":31,"a":92,"v":53},
      {"i":32,"a":91,"v":72},{"i":32,"a":92,"v":80},{"i":32,"a":93,"v":75},
      {"i":33,"a":93,"v":80},{"i":33,"a":94,"v":87},{"i":33,"a":95,"v":82},
      {"i":34,"a":95,"v":82},{"i":34,"a":96,"v":81},
      {"i":35,"a":64,"v":75},{"i":35,"a":65,"v":85},{"i":35,"a":66,"v":70},
      {"i":36,"a":66,"v":88},{"i":36,"a":67,"v":78},{"i":36,"a":68,"v":92},
      {"i":37,"a":67,"v":62},{"i":37,"a":68,"v":72},{"i":37,"a":69,"v":58},
      {"i":38,"a":69,"v":82},{"i":38,"a":70,"v":72},{"i":38,"a":71,"v":86},
      {"i":39,"a":71,"v":78},{"i":39,"a":72,"v":70},{"i":39,"a":73,"v":80},
      {"i":40,"a":73,"v":72},{"i":40,"a":74,"v":85},{"i":40,"a":75,"v":68},
      {"i":41,"a":76,"v":82},{"i":41,"a":77,"v":74},{"i":41,"a":78,"v":86},
      {"i":42,"a":79,"v":72},{"i":42,"a":80,"v":80},{"i":42,"a":81,"v":68},
      {"i":43,"a":82,"v":85},{"i":43,"a":83,"v":78},{"i":43,"a":84,"v":90},
      {"i":44,"a":85,"v":78},{"i":44,"a":86,"v":66},{"i":44,"a":87,"v":76},
      {"i":45,"a":65,"v":65},{"i":45,"a":66,"v":77},{"i":45,"a":67,"v":68},
      {"i":46,"a":68,"v":98},{"i":46,"a":69,"v":90},{"i":46,"a":70,"v":102},
      {"i":47,"a":72,"v":95},{"i":47,"a":73,"v":88},{"i":47,"a":74,"v":98},
      {"i":48,"a":75,"v":60},{"i":48,"a":76,"v":70},{"i":48,"a":77,"v":58},
      {"i":49,"a":78,"v":78},{"i":49,"a":79,"v":65},{"i":49,"a":80,"v":76},
      {"i":50,"a":70,"v":90},{"i":50,"a":71,"v":83},{"i":50,"a":72,"v":95},
      {"i":101,"a":64,"v":96},{"i":101,"a":65,"v":66},{"i":101,"a":66,"v":87},{"i":101,"a":67,"v":62},{"i":101,"a":68,"v":83},
      {"i":102,"a":64,"v":71},{"i":102,"a":65,"v":92},{"i":102,"a":66,"v":62},{"i":102,"a":67,"v":96},{"i":102,"a":68,"v":75},
      {"i":103,"a":65,"v":83},{"i":103,"a":66,"v":58},{"i":103,"a":67,"v":92},{"i":103,"a":68,"v":71},{"i":103,"a":69,"v":100},
      {"i":104,"a":65,"v":62},{"i":104,"a":66,"v":87},{"i":104,"a":67,"v":66},{"i":104,"a":68,"v":96},{"i":104,"a":69,"v":71},
      {"i":105,"a":66,"v":92},{"i":105,"a":67,"v":71},{"i":105,"a":68,"v":100},{"i":105,"a":69,"v":66},{"i":105,"a":70,"v":87},
      {"i":106,"a":66,"v":75},{"i":106,"a":67,"v":96},{"i":106,"a":68,"v":58},{"i":106,"a":69,"v":83},{"i":106,"a":70,"v":66},
      {"i":107,"a":67,"v":58},{"i":107,"a":68,"v":83},{"i":107,"a":69,"v":71},{"i":107,"a":70,"v":96},{"i":107,"a":71,"v":62},
      {"i":108,"a":67,"v":100},{"i":108,"a":68,"v":75},{"i":108,"a":69,"v":92},{"i":108,"a":70,"v":62},{"i":108,"a":71,"v":79},
      {"i":109,"a":68,"v":79},{"i":109,"a":69,"v":62},{"i":109,"a":70,"v":96},{"i":109,"a":71,"v":71},{"i":109,"a":72,"v":92},
      {"i":110,"a":68,"v":66},{"i":110,"a":69,"v":92},{"i":110,"a":70,"v":75},{"i":110,"a":71,"v":100},{"i":110,"a":72,"v":58},
      {"i":111,"a":69,"v":87},{"i":111,"a":70,"v":66},{"i":111,"a":71,"v":83},{"i":111,"a":72,"v":58},{"i":111,"a":73,"v":96},
      {"i":112,"a":69,"v":71},{"i":112,"a":70,"v":100},{"i":112,"a":71,"v":62},{"i":112,"a":72,"v":87},{"i":112,"a":73,"v":75},
      {"i":113,"a":70,"v":96},{"i":113,"a":71,"v":75},{"i":113,"a":72,"v":92},{"i":113,"a":73,"v":66},{"i":113,"a":74,"v":83},
      {"i":114,"a":70,"v":62},{"i":114,"a":71,"v":83},{"i":114,"a":72,"v":58},{"i":114,"a":73,"v":92},{"i":114,"a":74,"v":71},
      {"i":115,"a":71,"v":83},{"i":115,"a":72,"v":58},{"i":115,"a":73,"v":96},{"i":115,"a":74,"v":75},{"i":115,"a":75,"v":100},
      {"i":116,"a":71,"v":75},{"i":116,"a":72,"v":96},{"i":116,"a":73,"v":66},{"i":116,"a":74,"v":87},{"i":116,"a":75,"v":62},
      {"i":117,"a":72,"v":92},{"i":117,"a":73,"v":71},{"i":117,"a":74,"v":87},{"i":117,"a":75,"v":58},{"i":117,"a":76,"v":79},
      {"i":118,"a":72,"v":58},{"i":118,"a":73,"v":87},{"i":118,"a":74,"v":71},{"i":118,"a":75,"v":96},{"i":118,"a":76,"v":66},
      {"i":119,"a":73,"v":100},{"i":119,"a":74,"v":79},{"i":119,"a":75,"v":96},{"i":119,"a":76,"v":66},{"i":119,"a":77,"v":87},
      {"i":120,"a":73,"v":66},{"i":120,"a":74,"v":92},{"i":120,"a":75,"v":62},{"i":120,"a":76,"v":83},{"i":120,"a":77,"v":58},
      {"i":121,"a":74,"v":87},{"i":121,"a":75,"v":62},{"i":121,"a":76,"v":79},{"i":121,"a":77,"v":96},{"i":121,"a":78,"v":71},
      {"i":122,"a":74,"v":71},{"i":122,"a":75,"v":96},{"i":122,"a":76,"v":58},{"i":122,"a":77,"v":92},{"i":122,"a":78,"v":75},
      {"i":123,"a":75,"v":96},{"i":123,"a":76,"v":66},{"i":123,"a":77,"v":83},{"i":123,"a":78,"v":62},{"i":123,"a":79,"v":92},
      {"i":124,"a":76,"v":62},{"i":124,"a":77,"v":87},{"i":124,"a":78,"v":71},{"i":124,"a":79,"v":100},{"i":124,"a":80,"v":66},
      {"i":125,"a":77,"v":83},{"i":125,"a":78,"v":58},{"i":125,"a":79,"v":92},{"i":125,"a":80,"v":75},{"i":125,"a":81,"v":96},
      {"i":126,"a":78,"v":75},{"i":126,"a":79,"v":96},{"i":126,"a":80,"v":66},{"i":126,"a":81,"v":87},{"i":126,"a":82,"v":58},
      {"i":127,"a":79,"v":92},{"i":127,"a":80,"v":66},{"i":127,"a":81,"v":100},{"i":127,"a":82,"v":71},{"i":127,"a":83,"v":83},
      {"i":128,"a":80,"v":58},{"i":128,"a":81,"v":83},{"i":128,"a":82,"v":66},{"i":128,"a":83,"v":92},{"i":128,"a":84,"v":75},
      {"i":129,"a":81,"v":87},{"i":129,"a":82,"v":62},{"i":129,"a":83,"v":96},{"i":129,"a":84,"v":71},{"i":129,"a":85,"v":79},
      {"i":130,"a":82,"v":71},{"i":130,"a":83,"v":92},{"i":130,"a":84,"v":58},{"i":130,"a":85,"v":83},{"i":130,"a":86,"v":66}
    ],
    "urea": [
      {"i":1,"a":60,"v":6.8},{"i":1,"a":61,"v":7.3},{"i":1,"a":62,"v":6.0},
      {"i":2,"a":60,"v":4.3},{"i":2,"a":61,"v":5.0},{"i":2,"a":62,"v":3.7},
      {"i":3,"a":61,"v":6.2},{"i":3,"a":62,"v":5.5},{"i":3,"a":63,"v":6.5},
      {"i":4,"a":62,"v":7.2},{"i":4,"a":63,"v":6.8},{"i":4,"a":64,"v":5.2},
      {"i":5,"a":63,"v":4.0},{"i":5,"a":64,"v":3.5},{"i":5,"a":65,"v":4.5},
      {"i":6,"a":64,"v":10.8},{"i":6,"a":65,"v":7.5},{"i":6,"a":66,"v":8.5},
      {"i":7,"a":64,"v":2.3},{"i":7,"a":65,"v":3.2},{"i":7,"a":66,"v":2.8},
      {"i":8,"a":65,"v":9.0},{"i":8,"a":66,"v":6.5},{"i":8,"a":67,"v":8.0},
      {"i":9,"a":66,"v":4.5},{"i":9,"a":67,"v":3.0},{"i":9,"a":68,"v":4.0},
      {"i":10,"a":66,"v":7.0},{"i":10,"a":67,"v":11.2},{"i":10,"a":68,"v":8.5},
      {"i":11,"a":67,"v":5.5},{"i":11,"a":68,"v":6.8},{"i":11,"a":69,"v":5.0},
      {"i":12,"a":68,"v":2.4},{"i":12,"a":69,"v":3.5},{"i":12,"a":70,"v":2.6},
      {"i":13,"a":68,"v":9.8},{"i":13,"a":69,"v":7.2},{"i":13,"a":70,"v":8.8},
      {"i":14,"a":69,"v":5.8},{"i":14,"a":70,"v":4.5},{"i":14,"a":71,"v":6.2},
      {"i":15,"a":70,"v":10.4},{"i":15,"a":71,"v":8.0},{"i":15,"a":72,"v":9.0},
      {"i":16,"a":71,"v":3.2},{"i":16,"a":72,"v":4.2},{"i":16,"a":73,"v":2.1},
      {"i":17,"a":72,"v":6.5},{"i":17,"a":73,"v":11.4},{"i":17,"a":74,"v":10.5},
      {"i":18,"a":73,"v":5.0},{"i":18,"a":74,"v":6.0},{"i":18,"a":75,"v":4.5},
      {"i":19,"a":74,"v":8.5},{"i":19,"a":75,"v":10.5},{"i":19,"a":76,"v":8.0},
      {"i":20,"a":75,"v":3.0},{"i":20,"a":76,"v":4.2},{"i":20,"a":77,"v":3.3},
      {"i":21,"a":76,"v":6.8},{"i":21,"a":77,"v":5.5},{"i":21,"a":78,"v":7.2},
      {"i":22,"a":77,"v":9.5},{"i":22,"a":78,"v":10.6},{"i":22,"a":79,"v":8.0},
      {"i":23,"a":78,"v":2.3},{"i":23,"a":79,"v":3.5},{"i":23,"a":80,"v":3.0},
      {"i":24,"a":79,"v":5.5},{"i":24,"a":80,"v":6.5},{"i":24,"a":81,"v":5.0},
      {"i":25,"a":80,"v":8.8},{"i":25,"a":81,"v":7.5},{"i":25,"a":82,"v":8.2},
      {"i":26,"a":81,"v":2.3},{"i":26,"a":82,"v":3.8},{"i":26,"a":83,"v":3.2},
      {"i":27,"a":82,"v":6.0},{"i":27,"a":83,"v":5.2},{"i":27,"a":84,"v":6.8},
      {"i":28,"a":83,"v":4.0},{"i":28,"a":84,"v":7.5},{"i":28,"a":85,"v":4.5},
      {"i":29,"a":84,"v":8.3},{"i":29,"a":85,"v":7.0},{"i":29,"a":86,"v":9.2},
      {"i":30,"a":85,"v":3.3},{"i":30,"a":86,"v":4.8},{"i":30,"a":87,"v":2.9},
      {"i":31,"a":86,"v":6.5},{"i":31,"a":87,"v":10.3},{"i":31,"a":88,"v":7.5},
      {"i":32,"a":87,"v":5.0},{"i":32,"a":88,"v":9.2},{"i":32,"a":89,"v":6.0},
      {"i":33,"a":89,"v":7.0},{"i":33,"a":90,"v":9.7},{"i":33,"a":91,"v":5.8},
      {"i":34,"a":90,"v":4.5},{"i":34,"a":91,"v":4.0},
      {"i":35,"a":91,"v":7.0},{"i":35,"a":92,"v":6.8},{"i":35,"a":93,"v":5.5},
      {"i":36,"a":92,"v":5.5},{"i":36,"a":93,"v":5.2},
      {"i":37,"a":64,"v":6.0},{"i":37,"a":65,"v":4.8},{"i":37,"a":66,"v":6.5},
      {"i":38,"a":65,"v":5.2},{"i":38,"a":66,"v":7.8},{"i":38,"a":67,"v":5.8},
      {"i":39,"a":67,"v":4.2},{"i":39,"a":68,"v":5.5},{"i":39,"a":69,"v":3.8},
      {"i":40,"a":69,"v":7.5},{"i":40,"a":70,"v":6.0},{"i":40,"a":71,"v":7.8},
      {"i":41,"a":70,"v":5.0},{"i":41,"a":71,"v":5.8},{"i":41,"a":72,"v":4.5},
      {"i":42,"a":72,"v":7.0},{"i":42,"a":73,"v":5.5},{"i":42,"a":74,"v":6.5},
      {"i":43,"a":74,"v":4.5},{"i":43,"a":75,"v":5.8},{"i":43,"a":76,"v":4.0},
      {"i":44,"a":75,"v":6.5},{"i":44,"a":76,"v":7.5},{"i":44,"a":77,"v":6.0},
      {"i":45,"a":77,"v":4.8},{"i":45,"a":78,"v":6.0},{"i":45,"a":79,"v":4.2},
      {"i":46,"a":79,"v":7.0},{"i":46,"a":80,"v":5.2},{"i":46,"a":81,"v":6.8},
      {"i":47,"a":81,"v":4.5},{"i":47,"a":82,"v":5.5},{"i":47,"a":83,"v":4.2},
      {"i":48,"a":83,"v":6.5},{"i":48,"a":84,"v":5.0},{"i":48,"a":85,"v":6.2},
      {"i":49,"a":86,"v":5.5},{"i":49,"a":87,"v":4.5},{"i":49,"a":88,"v":6.0},
      {"i":50,"a":88,"v":5.8},{"i":50,"a":89,"v":7.0},{"i":50,"a":90,"v":5.0},
      {"i":101,"a":64,"v":8.0},{"i":101,"a":65,"v":4.5},{"i":101,"a":66,"v":7.0},{"i":101,"a":67,"v":4.0},{"i":101,"a":68,"v":6.5},
      {"i":102,"a":64,"v":5.0},{"i":102,"a":65,"v":7.5},{"i":102,"a":66,"v":4.0},{"i":102,"a":67,"v":8.0},{"i":102,"a":68,"v":5.5},
      {"i":103,"a":65,"v":6.5},{"i":103,"a":66,"v":3.5},{"i":103,"a":67,"v":7.5},{"i":103,"a":68,"v":5.0},{"i":103,"a":69,"v":8.5},
      {"i":104,"a":65,"v":4.0},{"i":104,"a":66,"v":7.0},{"i":104,"a":67,"v":4.5},{"i":104,"a":68,"v":8.0},{"i":104,"a":69,"v":5.0},
      {"i":105,"a":66,"v":7.5},{"i":105,"a":67,"v":5.0},{"i":105,"a":68,"v":8.5},{"i":105,"a":69,"v":4.5},{"i":105,"a":70,"v":7.0},
      {"i":106,"a":66,"v":5.5},{"i":106,"a":67,"v":8.0},{"i":106,"a":68,"v":3.5},{"i":106,"a":69,"v":6.5},{"i":106,"a":70,"v":4.5},
      {"i":107,"a":67,"v":3.5},{"i":107,"a":68,"v":6.5},{"i":107,"a":69,"v":5.0},{"i":107,"a":70,"v":8.0},{"i":107,"a":71,"v":4.0},
      {"i":108,"a":67,"v":8.5},{"i":108,"a":68,"v":5.5},{"i":108,"a":69,"v":7.5},{"i":108,"a":70,"v":4.0},{"i":108,"a":71,"v":6.0},
      {"i":109,"a":68,"v":6.0},{"i":109,"a":69,"v":4.0},{"i":109,"a":70,"v":8.0},{"i":109,"a":71,"v":5.0},{"i":109,"a":72,"v":7.5},
      {"i":110,"a":68,"v":4.5},{"i":110,"a":69,"v":7.5},{"i":110,"a":70,"v":5.5},{"i":110,"a":71,"v":8.5},{"i":110,"a":72,"v":3.5},
      {"i":111,"a":69,"v":7.0},{"i":111,"a":70,"v":4.5},{"i":111,"a":71,"v":6.5},{"i":111,"a":72,"v":3.5},{"i":111,"a":73,"v":8.0},
      {"i":112,"a":69,"v":5.0},{"i":112,"a":70,"v":8.5},{"i":112,"a":71,"v":4.0},{"i":112,"a":72,"v":7.0},{"i":112,"a":73,"v":5.5},
      {"i":113,"a":70,"v":8.0},{"i":113,"a":71,"v":5.5},{"i":113,"a":72,"v":7.5},{"i":113,"a":73,"v":4.5},{"i":113,"a":74,"v":6.5},
      {"i":114,"a":70,"v":4.0},{"i":114,"a":71,"v":6.5},{"i":114,"a":72,"v":3.5},{"i":114,"a":73,"v":7.5},{"i":114,"a":74,"v":5.0},
      {"i":115,"a":71,"v":6.5},{"i":115,"a":72,"v":3.5},{"i":115,"a":73,"v":8.0},{"i":115,"a":74,"v":5.5},{"i":115,"a":75,"v":8.5},
      {"i":116,"a":71,"v":5.5},{"i":116,"a":72,"v":8.0},{"i":116,"a":73,"v":4.5},{"i":116,"a":74,"v":7.0},{"i":116,"a":75,"v":4.0},
      {"i":117,"a":72,"v":7.5},{"i":117,"a":73,"v":5.0},{"i":117,"a":74,"v":7.0},{"i":117,"a":75,"v":3.5},{"i":117,"a":76,"v":6.0},
      {"i":118,"a":72,"v":3.5},{"i":118,"a":73,"v":7.0},{"i":118,"a":74,"v":5.0},{"i":118,"a":75,"v":8.0},{"i":118,"a":76,"v":4.5},
      {"i":119,"a":73,"v":8.5},{"i":119,"a":74,"v":6.0},{"i":119,"a":75,"v":8.0},{"i":119,"a":76,"v":4.5},{"i":119,"a":77,"v":7.0},
      {"i":120,"a":73,"v":4.5},{"i":120,"a":74,"v":7.5},{"i":120,"a":75,"v":4.0},{"i":120,"a":76,"v":6.5},{"i":120,"a":77,"v":3.5},
      {"i":121,"a":74,"v":7.0},{"i":121,"a":75,"v":4.0},{"i":121,"a":76,"v":6.0},{"i":121,"a":77,"v":8.0},{"i":121,"a":78,"v":5.0},
      {"i":122,"a":74,"v":5.0},{"i":122,"a":75,"v":8.0},{"i":122,"a":76,"v":3.5},{"i":122,"a":77,"v":7.5},{"i":122,"a":78,"v":5.5},
      {"i":123,"a":75,"v":8.0},{"i":123,"a":76,"v":4.5},{"i":123,"a":77,"v":6.5},{"i":123,"a":78,"v":4.0},{"i":123,"a":79,"v":7.5},
      {"i":124,"a":76,"v":4.0},{"i":124,"a":77,"v":7.0},{"i":124,"a":78,"v":5.0},{"i":124,"a":79,"v":8.5},{"i":124,"a":80,"v":4.5},
      {"i":125,"a":77,"v":6.5},{"i":125,"a":78,"v":3.5},{"i":125,"a":79,"v":7.5},{"i":125,"a":80,"v":5.5},{"i":125,"a":81,"v":8.0},
      {"i":126,"a":78,"v":5.5},{"i":126,"a":79,"v":8.0},{"i":126,"a":80,"v":4.5},{"i":126,"a":81,"v":7.0},{"i":126,"a":82,"v":3.5},
      {"i":127,"a":79,"v":7.5},{"i":127,"a":80,"v":4.5},{"i":127,"a":81,"v":8.5},{"i":127,"a":82,"v":5.0},{"i":127,"a":83,"v":6.5},
      {"i":128,"a":80,"v":3.5},{"i":128,"a":81,"v":6.5},{"i":128,"a":82,"v":4.5},{"i":128,"a":83,"v":7.5},{"i":128,"a":84,"v":5.5},
      {"i":129,"a":81,"v":7.0},{"i":129,"a":82,"v":4.0},{"i":129,"a":83,"v":8.0},{"i":129,"a":84,"v":5.0},{"i":129,"a":85,"v":6.0},
      {"i":130,"a":82,"v":5.0},{"i":130,"a":83,"v":7.5},{"i":130,"a":84,"v":3.5},{"i":130,"a":85,"v":6.5},{"i":130,"a":86,"v":4.5}
    ],
    "tb": [
      {"i":1,"a":60,"v":12.5},{"i":1,"a":61,"v":20.0},{"i":1,"a":62,"v":8.5},
      {"i":2,"a":60,"v":13.0},{"i":2,"a":61,"v":11.5},{"i":2,"a":62,"v":17.0},
      {"i":3,"a":61,"v":23.5},{"i":3,"a":62,"v":19.5},{"i":3,"a":63,"v":18.0},
      {"i":4,"a":63,"v":48.0},{"i":4,"a":64,"v":33.0},{"i":4,"a":65,"v":27.0},
      {"i":5,"a":63,"v":40.0},{"i":5,"a":64,"v":36.0},{"i":5,"a":65,"v":34.0},
      {"i":6,"a":63,"v":31.0},{"i":6,"a":64,"v":26.0},{"i":6,"a":65,"v":22.0},
      {"i":7,"a":64,"v":9.0},{"i":7,"a":65,"v":14.0},{"i":7,"a":66,"v":8.0},
      {"i":8,"a":65,"v":20.0},{"i":8,"a":66,"v":37.0},{"i":8,"a":67,"v":25.0},
      {"i":9,"a":66,"v":12.0},{"i":9,"a":67,"v":7.0},{"i":9,"a":68,"v":10.0},
      {"i":10,"a":67,"v":29.0},{"i":10,"a":68,"v":18.0},{"i":10,"a":69,"v":38.0},
      {"i":11,"a":68,"v":6.0},{"i":11,"a":69,"v":12.0},{"i":11,"a":70,"v":9.0},
      {"i":12,"a":69,"v":42.0},{"i":12,"a":70,"v":36.0},{"i":12,"a":71,"v":30.0},
      {"i":13,"a":70,"v":16.0},{"i":13,"a":71,"v":22.0},{"i":13,"a":72,"v":14.0},
      {"i":14,"a":71,"v":37.0},{"i":14,"a":72,"v":40.0},{"i":14,"a":73,"v":40.5},
      {"i":15,"a":72,"v":10.0},{"i":15,"a":73,"v":18.0},{"i":15,"a":74,"v":12.0},
      {"i":16,"a":73,"v":28.0},{"i":16,"a":74,"v":44.0},{"i":16,"a":75,"v":30.0},
      {"i":17,"a":74,"v":20.0},{"i":17,"a":75,"v":13.0},{"i":17,"a":76,"v":24.0},
      {"i":18,"a":75,"v":9.0},{"i":18,"a":76,"v":43.5},{"i":18,"a":77,"v":35.0},
      {"i":19,"a":76,"v":18.0},{"i":19,"a":77,"v":48.0},{"i":19,"a":78,"v":46.0},
      {"i":20,"a":77,"v":12.0},{"i":20,"a":78,"v":27.0},{"i":20,"a":79,"v":10.0},
      {"i":21,"a":78,"v":22.0},{"i":21,"a":79,"v":16.0},{"i":21,"a":80,"v":26.0},
      {"i":22,"a":79,"v":8.5},{"i":22,"a":80,"v":14.0},{"i":22,"a":81,"v":9.5},
      {"i":23,"a":80,"v":35.0},{"i":23,"a":81,"v":38.0},{"i":23,"a":82,"v":26.0},
      {"i":24,"a":81,"v":18.0},{"i":24,"a":82,"v":36.5},{"i":24,"a":83,"v":20.0},
      {"i":25,"a":82,"v":10.5},{"i":25,"a":83,"v":30.5},{"i":25,"a":84,"v":15.0},
      {"i":26,"a":83,"v":24.0},{"i":26,"a":84,"v":30.0},{"i":26,"a":85,"v":26.5},
      {"i":27,"a":84,"v":46.0},{"i":27,"a":85,"v":46.3},{"i":27,"a":86,"v":42.5},
      {"i":28,"a":84,"v":12.0},{"i":28,"a":85,"v":18.0},{"i":28,"a":86,"v":9.0},
      {"i":29,"a":85,"v":22.0},{"i":29,"a":86,"v":14.0},{"i":29,"a":87,"v":19.0},
      {"i":30,"a":86,"v":10.0},{"i":30,"a":87,"v":23.5},{"i":30,"a":88,"v":13.0},
      {"i":31,"a":87,"v":18.0},{"i":31,"a":88,"v":24.0},{"i":31,"a":89,"v":15.5},
      {"i":32,"a":88,"v":9.0},{"i":32,"a":89,"v":24.5},{"i":32,"a":90,"v":20.0},
      {"i":33,"a":89,"v":16.0},{"i":33,"a":90,"v":6.5},
      {"i":34,"a":90,"v":18.5},{"i":34,"a":91,"v":22.0},{"i":34,"a":92,"v":13.0},
      {"i":35,"a":91,"v":17.0},{"i":35,"a":92,"v":22.5},{"i":35,"a":93,"v":9.5},
      {"i":36,"a":64,"v":16.0},{"i":36,"a":65,"v":11.0},{"i":36,"a":66,"v":18.0},
      {"i":37,"a":65,"v":14.5},{"i":37,"a":66,"v":19.0},{"i":37,"a":67,"v":12.5},
      {"i":38,"a":66,"v":22.0},{"i":38,"a":67,"v":15.0},{"i":38,"a":68,"v":24.0},
      {"i":39,"a":67,"v":13.0},{"i":39,"a":68,"v":16.5},{"i":39,"a":69,"v":11.0},
      {"i":40,"a":69,"v":17.0},{"i":40,"a":70,"v":13.5},{"i":40,"a":71,"v":19.5},
      {"i":41,"a":70,"v":11.0},{"i":41,"a":71,"v":15.5},{"i":41,"a":72,"v":8.0},
      {"i":42,"a":72,"v":16.5},{"i":42,"a":73,"v":12.0},{"i":42,"a":74,"v":18.5},
      {"i":43,"a":73,"v":14.0},{"i":43,"a":74,"v":9.5},{"i":43,"a":75,"v":16.0},
      {"i":44,"a":75,"v":18.0},{"i":44,"a":76,"v":14.0},{"i":44,"a":77,"v":20.5},
      {"i":45,"a":77,"v":15.5},{"i":45,"a":78,"v":11.0},{"i":45,"a":79,"v":17.0},
      {"i":46,"a":78,"v":13.0},{"i":46,"a":79,"v":19.5},{"i":46,"a":80,"v":12.0},
      {"i":47,"a":80,"v":17.5},{"i":47,"a":81,"v":13.5},{"i":47,"a":82,"v":16.0},
      {"i":48,"a":81,"v":11.5},{"i":48,"a":82,"v":15.0},{"i":48,"a":83,"v":10.0},
      {"i":49,"a":83,"v":15.0},{"i":49,"a":84,"v":19.0},{"i":49,"a":85,"v":13.5},
      {"i":50,"a":65,"v":17.0},{"i":50,"a":66,"v":13.5},{"i":50,"a":67,"v":20.0},
      {"i":101,"a":64,"v":23.3},{"i":101,"a":65,"v":11.4},{"i":101,"a":66,"v":19.9},{"i":101,"a":67,"v":9.7},{"i":101,"a":68,"v":18.2},
      {"i":102,"a":64,"v":13.1},{"i":102,"a":65,"v":21.6},{"i":102,"a":66,"v":9.7},{"i":102,"a":67,"v":23.3},{"i":102,"a":68,"v":14.8},
      {"i":103,"a":65,"v":18.2},{"i":103,"a":66,"v":8.0},{"i":103,"a":67,"v":21.6},{"i":103,"a":68,"v":13.1},{"i":103,"a":69,"v":25.0},
      {"i":104,"a":65,"v":9.7},{"i":104,"a":66,"v":19.9},{"i":104,"a":67,"v":11.4},{"i":104,"a":68,"v":23.3},{"i":104,"a":69,"v":13.1},
      {"i":105,"a":66,"v":21.6},{"i":105,"a":67,"v":13.1},{"i":105,"a":68,"v":25.0},{"i":105,"a":69,"v":11.4},{"i":105,"a":70,"v":19.9},
      {"i":106,"a":66,"v":14.8},{"i":106,"a":67,"v":23.3},{"i":106,"a":68,"v":8.0},{"i":106,"a":69,"v":18.2},{"i":106,"a":70,"v":11.4},
      {"i":107,"a":67,"v":8.0},{"i":107,"a":68,"v":18.2},{"i":107,"a":69,"v":13.1},{"i":107,"a":70,"v":23.3},{"i":107,"a":71,"v":9.7},
      {"i":108,"a":67,"v":25.0},{"i":108,"a":68,"v":14.8},{"i":108,"a":69,"v":21.6},{"i":108,"a":70,"v":9.7},{"i":108,"a":71,"v":16.5},
      {"i":109,"a":68,"v":16.5},{"i":109,"a":69,"v":9.7},{"i":109,"a":70,"v":23.3},{"i":109,"a":71,"v":13.1},{"i":109,"a":72,"v":21.6},
      {"i":110,"a":68,"v":11.4},{"i":110,"a":69,"v":21.6},{"i":110,"a":70,"v":14.8},{"i":110,"a":71,"v":25.0},{"i":110,"a":72,"v":8.0},
      {"i":111,"a":69,"v":19.9},{"i":111,"a":70,"v":11.4},{"i":111,"a":71,"v":18.2},{"i":111,"a":72,"v":8.0},{"i":111,"a":73,"v":23.3},
      {"i":112,"a":69,"v":13.1},{"i":112,"a":70,"v":25.0},{"i":112,"a":71,"v":9.7},{"i":112,"a":72,"v":19.9},{"i":112,"a":73,"v":14.8},
      {"i":113,"a":70,"v":23.3},{"i":113,"a":71,"v":14.8},{"i":113,"a":72,"v":21.6},{"i":113,"a":73,"v":11.4},{"i":113,"a":74,"v":18.2},
      {"i":114,"a":70,"v":9.7},{"i":114,"a":71,"v":18.2},{"i":114,"a":72,"v":8.0},{"i":114,"a":73,"v":21.6},{"i":114,"a":74,"v":13.1},
      {"i":115,"a":71,"v":18.2},{"i":115,"a":72,"v":8.0},{"i":115,"a":73,"v":23.3},{"i":115,"a":74,"v":14.8},{"i":115,"a":75,"v":25.0},
      {"i":116,"a":71,"v":14.8},{"i":116,"a":72,"v":23.3},{"i":116,"a":73,"v":11.4},{"i":116,"a":74,"v":19.9},{"i":116,"a":75,"v":9.7},
      {"i":117,"a":72,"v":21.6},{"i":117,"a":73,"v":13.1},{"i":117,"a":74,"v":19.9},{"i":117,"a":75,"v":8.0},{"i":117,"a":76,"v":16.5},
      {"i":118,"a":72,"v":8.0},{"i":118,"a":73,"v":19.9},{"i":118,"a":74,"v":13.1},{"i":118,"a":75,"v":23.3},{"i":118,"a":76,"v":11.4},
      {"i":119,"a":73,"v":25.0},{"i":119,"a":74,"v":16.5},{"i":119,"a":75,"v":23.3},{"i":119,"a":76,"v":11.4},{"i":119,"a":77,"v":19.9},
      {"i":120,"a":73,"v":11.4},{"i":120,"a":74,"v":21.6},{"i":120,"a":75,"v":9.7},{"i":120,"a":76,"v":18.2},{"i":120,"a":77,"v":8.0},
      {"i":121,"a":74,"v":19.9},{"i":121,"a":75,"v":9.7},{"i":121,"a":76,"v":16.5},{"i":121,"a":77,"v":23.3},{"i":121,"a":78,"v":13.1},
      {"i":122,"a":74,"v":13.1},{"i":122,"a":75,"v":23.3},{"i":122,"a":76,"v":8.0},{"i":122,"a":77,"v":21.6},{"i":122,"a":78,"v":14.8},
      {"i":123,"a":75,"v":23.3},{"i":123,"a":76,"v":11.4},{"i":123,"a":77,"v":18.2},{"i":123,"a":78,"v":9.7},{"i":123,"a":79,"v":21.6},
      {"i":124,"a":76,"v":9.7},{"i":124,"a":77,"v":19.9},{"i":124,"a":78,"v":13.1},{"i":124,"a":79,"v":25.0},{"i":124,"a":80,"v":11.4},
      {"i":125,"a":77,"v":18.2},{"i":125,"a":78,"v":8.0},{"i":125,"a":79,"v":21.6},{"i":125,"a":80,"v":14.8},{"i":125,"a":81,"v":23.3},
      {"i":126,"a":78,"v":14.8},{"i":126,"a":79,"v":23.3},{"i":126,"a":80,"v":11.4},{"i":126,"a":81,"v":19.9},{"i":126,"a":82,"v":8.0},
      {"i":127,"a":79,"v":21.6},{"i":127,"a":80,"v":11.4},{"i":127,"a":81,"v":25.0},{"i":127,"a":82,"v":13.1},{"i":127,"a":83,"v":18.2},
      {"i":128,"a":80,"v":8.0},{"i":128,"a":81,"v":18.2},{"i":128,"a":82,"v":11.4},{"i":128,"a":83,"v":21.6},{"i":128,"a":84,"v":14.8},
      {"i":129,"a":81,"v":19.9},{"i":129,"a":82,"v":9.7},{"i":129,"a":83,"v":23.3},{"i":129,"a":84,"v":13.1},{"i":129,"a":85,"v":16.5},
      {"i":130,"a":82,"v":13.1},{"i":130,"a":83,"v":21.6},{"i":130,"a":84,"v":8.0},{"i":130,"a":85,"v":18.2},{"i":130,"a":86,"v":11.4}
    ],
    "fld": [
      {"i":1,"a":60,"v":34.5},{"i":1,"a":61,"v":33.0},{"i":1,"a":62,"v":38.0},
      {"i":2,"a":60,"v":23.5},{"i":2,"a":61,"v":24.5},{"i":2,"a":62,"v":23.8},
      {"i":3,"a":60,"v":28.0},{"i":3,"a":61,"v":26.5},{"i":3,"a":62,"v":27.5},
      {"i":4,"a":62,"v":32.0},{"i":4,"a":63,"v":36.0},{"i":4,"a":64,"v":41.0},
      {"i":5,"a":63,"v":25.0},{"i":5,"a":64,"v":22.0},{"i":5,"a":65,"v":20.5},
      {"i":6,"a":64,"v":30.0},{"i":6,"a":65,"v":35.0},{"i":6,"a":66,"v":28.0},
      {"i":7,"a":65,"v":17.5},{"i":7,"a":66,"v":18.5},{"i":7,"a":67,"v":19.0},
      {"i":8,"a":65,"v":38.0},{"i":8,"a":66,"v":42.0},{"i":8,"a":67,"v":36.0},
      {"i":9,"a":66,"v":24.0},{"i":9,"a":67,"v":30.0},{"i":9,"a":68,"v":22.0},
      {"i":10,"a":67,"v":34.0},{"i":10,"a":68,"v":39.0},{"i":10,"a":69,"v":47.0},{"i":10,"a":70,"v":42.0},
      {"i":11,"a":68,"v":26.0},{"i":11,"a":69,"v":21.0},{"i":11,"a":70,"v":25.5},
      {"i":12,"a":69,"v":32.0},{"i":12,"a":70,"v":37.5},{"i":12,"a":71,"v":31.0},
      {"i":13,"a":70,"v":20.5},{"i":13,"a":71,"v":27.0},{"i":13,"a":72,"v":21.5},
      {"i":14,"a":71,"v":46.5},{"i":14,"a":72,"v":40.0},{"i":14,"a":73,"v":38.0},
      {"i":15,"a":72,"v":29.0},{"i":15,"a":73,"v":33.5},{"i":15,"a":74,"v":27.5},
      {"i":16,"a":73,"v":23.0},{"i":16,"a":74,"v":46.0},{"i":16,"a":75,"v":34.0},
      {"i":17,"a":74,"v":36.0},{"i":17,"a":75,"v":28.5},{"i":17,"a":76,"v":32.0},
      {"i":18,"a":75,"v":21.0},{"i":18,"a":76,"v":25.0},{"i":18,"a":77,"v":20.5},
      {"i":19,"a":76,"v":44.8},{"i":19,"a":77,"v":45.3},{"i":19,"a":78,"v":45.8},
      {"i":20,"a":76,"v":30.5},{"i":20,"a":77,"v":36.0},{"i":20,"a":78,"v":29.0},
      {"i":21,"a":77,"v":22.5},{"i":21,"a":78,"v":27.0},{"i":21,"a":79,"v":21.0},
      {"i":22,"a":78,"v":33.0},{"i":22,"a":79,"v":38.5},{"i":22,"a":80,"v":31.0},
      {"i":23,"a":79,"v":26.0},{"i":23,"a":80,"v":20.5},{"i":23,"a":81,"v":24.5},
      {"i":24,"a":80,"v":36.5},{"i":24,"a":81,"v":38.0},{"i":24,"a":82,"v":33.0},
      {"i":25,"a":81,"v":28.0},{"i":25,"a":82,"v":23.5},{"i":25,"a":83,"v":29.5},
      {"i":26,"a":82,"v":20.0},{"i":26,"a":83,"v":26.0},{"i":26,"a":84,"v":21.0},
      {"i":27,"a":83,"v":35.0},{"i":27,"a":84,"v":38.0},{"i":27,"a":85,"v":31.0},
      {"i":28,"a":84,"v":27.0},{"i":28,"a":85,"v":23.0},{"i":28,"a":86,"v":28.0},
      {"i":29,"a":85,"v":33.0},{"i":29,"a":86,"v":38.5},{"i":29,"a":87,"v":30.0},
      {"i":30,"a":86,"v":24.0},{"i":30,"a":87,"v":37.5},{"i":30,"a":88,"v":34.0},
      {"i":31,"a":87,"v":28.5},{"i":31,"a":88,"v":30.0},{"i":31,"a":89,"v":18.8},
      {"i":32,"a":88,"v":26.0},{"i":32,"a":89,"v":28.0},{"i":32,"a":90,"v":33.5},
      {"i":33,"a":89,"v":25.5},{"i":33,"a":90,"v":27.0},{"i":33,"a":91,"v":26.0},
      {"i":34,"a":91,"v":27.5},{"i":34,"a":92,"v":26.0},{"i":34,"a":93,"v":26.5},
      {"i":35,"a":92,"v":21.0},{"i":35,"a":93,"v":21.5},{"i":35,"a":94,"v":20.3},
      {"i":36,"a":93,"v":26.5},{"i":36,"a":94,"v":26.2},
      {"i":37,"a":64,"v":27.0},{"i":37,"a":65,"v":31.5},{"i":37,"a":66,"v":25.5},
      {"i":38,"a":66,"v":33.0},{"i":38,"a":67,"v":27.5},{"i":38,"a":68,"v":35.0},
      {"i":39,"a":67,"v":25.0},{"i":39,"a":68,"v":29.5},{"i":39,"a":69,"v":24.0},
      {"i":40,"a":69,"v":30.0},{"i":40,"a":70,"v":26.5},{"i":40,"a":71,"v":33.0},
      {"i":41,"a":70,"v":33.5},{"i":41,"a":71,"v":29.0},{"i":41,"a":72,"v":35.5},
      {"i":42,"a":72,"v":25.0},{"i":42,"a":73,"v":30.0},{"i":42,"a":74,"v":24.5},
      {"i":43,"a":74,"v":29.5},{"i":43,"a":75,"v":32.5},{"i":43,"a":76,"v":27.0},
      {"i":44,"a":75,"v":27.0},{"i":44,"a":76,"v":22.5},{"i":44,"a":77,"v":28.5},
      {"i":45,"a":77,"v":31.5},{"i":45,"a":78,"v":27.5},{"i":45,"a":79,"v":33.0},
      {"i":46,"a":79,"v":29.0},{"i":46,"a":80,"v":33.5},{"i":46,"a":81,"v":28.0},
      {"i":47,"a":81,"v":31.0},{"i":47,"a":82,"v":27.0},{"i":47,"a":83,"v":32.5},
      {"i":48,"a":84,"v":30.0},{"i":48,"a":85,"v":26.5},{"i":48,"a":86,"v":31.5},
      {"i":49,"a":65,"v":29.0},{"i":49,"a":66,"v":26.0},{"i":49,"a":67,"v":31.0},
      {"i":50,"a":68,"v":31.0},{"i":50,"a":69,"v":27.5},{"i":50,"a":70,"v":33.0},
      {"i":101,"a":64,"v":36.3},{"i":101,"a":65,"v":24.4},{"i":101,"a":66,"v":32.9},{"i":101,"a":67,"v":22.7},{"i":101,"a":68,"v":31.2},
      {"i":102,"a":64,"v":26.1},{"i":102,"a":65,"v":34.6},{"i":102,"a":66,"v":22.7},{"i":102,"a":67,"v":36.3},{"i":102,"a":68,"v":27.8},
      {"i":103,"a":65,"v":31.2},{"i":103,"a":66,"v":21.0},{"i":103,"a":67,"v":34.6},{"i":103,"a":68,"v":26.1},{"i":103,"a":69,"v":38.0},
      {"i":104,"a":65,"v":22.7},{"i":104,"a":66,"v":32.9},{"i":104,"a":67,"v":24.4},{"i":104,"a":68,"v":36.3},{"i":104,"a":69,"v":26.1},
      {"i":105,"a":66,"v":34.6},{"i":105,"a":67,"v":26.1},{"i":105,"a":68,"v":38.0},{"i":105,"a":69,"v":24.4},{"i":105,"a":70,"v":32.9},
      {"i":106,"a":66,"v":27.8},{"i":106,"a":67,"v":36.3},{"i":106,"a":68,"v":21.0},{"i":106,"a":69,"v":31.2},{"i":106,"a":70,"v":24.4},
      {"i":107,"a":67,"v":21.0},{"i":107,"a":68,"v":31.2},{"i":107,"a":69,"v":26.1},{"i":107,"a":70,"v":36.3},{"i":107,"a":71,"v":22.7},
      {"i":108,"a":67,"v":38.0},{"i":108,"a":68,"v":27.8},{"i":108,"a":69,"v":34.6},{"i":108,"a":70,"v":22.7},{"i":108,"a":71,"v":29.5},
      {"i":109,"a":68,"v":29.5},{"i":109,"a":69,"v":22.7},{"i":109,"a":70,"v":36.3},{"i":109,"a":71,"v":26.1},{"i":109,"a":72,"v":34.6},
      {"i":110,"a":68,"v":24.4},{"i":110,"a":69,"v":34.6},{"i":110,"a":70,"v":27.8},{"i":110,"a":71,"v":38.0},{"i":110,"a":72,"v":21.0},
      {"i":111,"a":69,"v":32.9},{"i":111,"a":70,"v":24.4},{"i":111,"a":71,"v":31.2},{"i":111,"a":72,"v":21.0},{"i":111,"a":73,"v":36.3},
      {"i":112,"a":69,"v":26.1},{"i":112,"a":70,"v":38.0},{"i":112,"a":71,"v":22.7},{"i":112,"a":72,"v":32.9},{"i":112,"a":73,"v":27.8},
      {"i":113,"a":70,"v":36.3},{"i":113,"a":71,"v":27.8},{"i":113,"a":72,"v":34.6},{"i":113,"a":73,"v":24.4},{"i":113,"a":74,"v":31.2},
      {"i":114,"a":70,"v":22.7},{"i":114,"a":71,"v":31.2},{"i":114,"a":72,"v":21.0},{"i":114,"a":73,"v":34.6},{"i":114,"a":74,"v":26.1},
      {"i":115,"a":71,"v":31.2},{"i":115,"a":72,"v":21.0},{"i":115,"a":73,"v":36.3},{"i":115,"a":74,"v":27.8},{"i":115,"a":75,"v":38.0},
      {"i":116,"a":71,"v":27.8},{"i":116,"a":72,"v":36.3},{"i":116,"a":73,"v":24.4},{"i":116,"a":74,"v":32.9},{"i":116,"a":75,"v":22.7},
      {"i":117,"a":72,"v":34.6},{"i":117,"a":73,"v":26.1},{"i":117,"a":74,"v":32.9},{"i":117,"a":75,"v":21.0},{"i":117,"a":76,"v":29.5},
      {"i":118,"a":72,"v":21.0},{"i":118,"a":73,"v":32.9},{"i":118,"a":74,"v":26.1},{"i":118,"a":75,"v":36.3},{"i":118,"a":76,"v":24.4},
      {"i":119,"a":73,"v":38.0},{"i":119,"a":74,"v":29.5},{"i":119,"a":75,"v":36.3},{"i":119,"a":76,"v":24.4},{"i":119,"a":77,"v":32.9},
      {"i":120,"a":73,"v":24.4},{"i":120,"a":74,"v":34.6},{"i":120,"a":75,"v":22.7},{"i":120,"a":76,"v":31.2},{"i":120,"a":77,"v":21.0},
      {"i":121,"a":74,"v":32.9},{"i":121,"a":75,"v":22.7},{"i":121,"a":76,"v":29.5},{"i":121,"a":77,"v":36.3},{"i":121,"a":78,"v":26.1},
      {"i":122,"a":74,"v":26.1},{"i":122,"a":75,"v":36.3},{"i":122,"a":76,"v":21.0},{"i":122,"a":77,"v":34.6},{"i":122,"a":78,"v":27.8},
      {"i":123,"a":75,"v":36.3},{"i":123,"a":76,"v":24.4},{"i":123,"a":77,"v":31.2},{"i":123,"a":78,"v":22.7},{"i":123,"a":79,"v":34.6},
      {"i":124,"a":76,"v":22.7},{"i":124,"a":77,"v":32.9},{"i":124,"a":78,"v":26.1},{"i":124,"a":79,"v":38.0},{"i":124,"a":80,"v":24.4},
      {"i":125,"a":77,"v":31.2},{"i":125,"a":78,"v":21.0},{"i":125,"a":79,"v":34.6},{"i":125,"a":80,"v":27.8},{"i":125,"a":81,"v":36.3},
      {"i":126,"a":78,"v":27.8},{"i":126,"a":79,"v":36.3},{"i":126,"a":80,"v":24.4},{"i":126,"a":81,"v":32.9},{"i":126,"a":82,"v":21.0},
      {"i":127,"a":79,"v":34.6},{"i":127,"a":80,"v":24.4},{"i":127,"a":81,"v":38.0},{"i":127,"a":82,"v":26.1},{"i":127,"a":83,"v":31.2},
      {"i":128,"a":80,"v":21.0},{"i":128,"a":81,"v":31.2},{"i":128,"a":82,"v":24.4},{"i":128,"a":83,"v":34.6},{"i":128,"a":84,"v":27.8},
      {"i":129,"a":81,"v":32.9},{"i":129,"a":82,"v":22.7},{"i":129,"a":83,"v":36.3},{"i":129,"a":84,"v":26.1},{"i":129,"a":85,"v":29.5},
      {"i":130,"a":82,"v":26.1},{"i":130,"a":83,"v":34.6},{"i":130,"a":84,"v":21.0},{"i":130,"a":85,"v":31.2},{"i":130,"a":86,"v":24.4}
    ],
    "ms": [
      {"i":1,"a":60,"v":1.5},{"i":1,"a":61,"v":1.8},{"i":1,"a":62,"v":1.9},
      {"i":2,"a":60,"v":4.0},{"i":2,"a":61,"v":3.5},{"i":2,"a":62,"v":3.2},
      {"i":3,"a":60,"v":2.3},{"i":3,"a":61,"v":2.1},{"i":3,"a":62,"v":2.7},
      {"i":4,"a":61,"v":2.9},{"i":4,"a":62,"v":4.9},{"i":4,"a":63,"v":3.7},
      {"i":5,"a":63,"v":3.2},{"i":5,"a":64,"v":5.2},{"i":5,"a":65,"v":4.0},
      {"i":6,"a":64,"v":1.6},{"i":6,"a":65,"v":1.9},{"i":6,"a":66,"v":1.4},
      {"i":7,"a":65,"v":1.1},{"i":7,"a":66,"v":1.3},{"i":7,"a":67,"v":1.1},
      {"i":8,"a":65,"v":4.7},{"i":8,"a":66,"v":6.1},{"i":8,"a":67,"v":5.0},
      {"i":9,"a":66,"v":2.5},{"i":9,"a":67,"v":3.8},{"i":9,"a":68,"v":2.1},
      {"i":10,"a":67,"v":6.2},{"i":10,"a":68,"v":5.5},{"i":10,"a":69,"v":6.4},
      {"i":11,"a":68,"v":1.0},{"i":11,"a":69,"v":1.2},{"i":11,"a":70,"v":1.2},
      {"i":12,"a":69,"v":3.4},{"i":12,"a":70,"v":7.1},{"i":12,"a":71,"v":6.8},
      {"i":13,"a":70,"v":2.2},{"i":13,"a":71,"v":3.0},{"i":13,"a":72,"v":1.9},
      {"i":14,"a":71,"v":4.5},{"i":14,"a":72,"v":5.7},{"i":14,"a":73,"v":7.35},
      {"i":15,"a":72,"v":2.8},{"i":15,"a":73,"v":1.9},{"i":15,"a":74,"v":2.6},
      {"i":16,"a":73,"v":4.0},{"i":16,"a":74,"v":6.2},{"i":16,"a":75,"v":4.8},
      {"i":17,"a":74,"v":1.8},{"i":17,"a":75,"v":2.9},{"i":17,"a":76,"v":2.0},
      {"i":18,"a":75,"v":3.6},{"i":18,"a":76,"v":5.9},{"i":18,"a":77,"v":4.5},
      {"i":19,"a":76,"v":2.5},{"i":19,"a":77,"v":6.8},{"i":19,"a":78,"v":6.7},
      {"i":20,"a":77,"v":1.9},{"i":20,"a":78,"v":2.7},{"i":20,"a":79,"v":1.7},
      {"i":21,"a":78,"v":3.9},{"i":21,"a":79,"v":3.0},{"i":21,"a":80,"v":5.6},
      {"i":22,"a":79,"v":2.3},{"i":22,"a":80,"v":3.3},{"i":22,"a":81,"v":2.0},
      {"i":23,"a":80,"v":4.5},{"i":23,"a":81,"v":5.7},{"i":23,"a":82,"v":4.1},
      {"i":24,"a":81,"v":1.8},{"i":24,"a":82,"v":2.9},{"i":24,"a":83,"v":2.2},
      {"i":25,"a":82,"v":4.3},{"i":25,"a":83,"v":3.1},{"i":25,"a":84,"v":6.0},
      {"i":26,"a":83,"v":2.4},{"i":26,"a":84,"v":1.7},{"i":26,"a":85,"v":2.5},
      {"i":27,"a":84,"v":3.6},{"i":27,"a":85,"v":4.8},{"i":27,"a":86,"v":3.4},
      {"i":28,"a":85,"v":2.1},{"i":28,"a":86,"v":3.3},{"i":28,"a":87,"v":2.0},
      {"i":29,"a":86,"v":5.1},{"i":29,"a":87,"v":5.3},
      {"i":30,"a":87,"v":3.0},{"i":30,"a":88,"v":4.3},{"i":30,"a":89,"v":2.8},
      {"i":31,"a":88,"v":3.9},{"i":31,"a":89,"v":4.1},{"i":31,"a":90,"v":3.2},
      {"i":32,"a":90,"v":2.6},{"i":32,"a":91,"v":3.1},{"i":32,"a":92,"v":2.3},
      {"i":33,"a":91,"v":3.3},{"i":33,"a":92,"v":2.6},{"i":33,"a":93,"v":3.0},
      {"i":34,"a":93,"v":2.3},{"i":34,"a":94,"v":2.6},
      {"i":35,"a":64,"v":3.0},{"i":35,"a":65,"v":2.4},{"i":35,"a":66,"v":3.5},
      {"i":36,"a":66,"v":3.9},{"i":36,"a":67,"v":2.8},{"i":36,"a":68,"v":4.3},
      {"i":37,"a":67,"v":2.3},{"i":37,"a":68,"v":3.2},{"i":37,"a":69,"v":2.0},
      {"i":38,"a":69,"v":4.2},{"i":38,"a":70,"v":3.3},{"i":38,"a":71,"v":4.8},
      {"i":39,"a":70,"v":3.0},{"i":39,"a":71,"v":2.4},{"i":39,"a":72,"v":3.4},
      {"i":40,"a":72,"v":3.7},{"i":40,"a":73,"v":2.9},{"i":40,"a":74,"v":4.1},
      {"i":41,"a":74,"v":3.1},{"i":41,"a":75,"v":3.8},{"i":41,"a":76,"v":2.7},
      {"i":42,"a":76,"v":4.0},{"i":42,"a":77,"v":3.0},{"i":42,"a":78,"v":3.6},
      {"i":43,"a":77,"v":2.6},{"i":43,"a":78,"v":3.4},{"i":43,"a":79,"v":2.4},
      {"i":44,"a":79,"v":3.8},{"i":44,"a":80,"v":2.7},{"i":44,"a":81,"v":3.5},
      {"i":45,"a":81,"v":3.2},{"i":45,"a":82,"v":2.4},{"i":45,"a":83,"v":3.6},
      {"i":46,"a":83,"v":3.5},{"i":46,"a":84,"v":2.8},{"i":46,"a":85,"v":3.9},
      {"i":47,"a":65,"v":3.6},{"i":47,"a":66,"v":2.9},{"i":47,"a":67,"v":4.1},
      {"i":48,"a":68,"v":2.7},{"i":48,"a":69,"v":3.5},{"i":48,"a":70,"v":2.6},
      {"i":49,"a":71,"v":3.5},{"i":49,"a":72,"v":4.3},{"i":49,"a":73,"v":3.3},
      {"i":50,"a":75,"v":2.5},{"i":50,"a":76,"v":3.3},{"i":50,"a":77,"v":2.2},
      {"i":101,"a":64,"v":4.7},{"i":101,"a":65,"v":2.4},{"i":101,"a":66,"v":4.0},{"i":101,"a":67,"v":2.1},{"i":101,"a":68,"v":3.7},
      {"i":102,"a":64,"v":2.8},{"i":102,"a":65,"v":4.4},{"i":102,"a":66,"v":2.1},{"i":102,"a":67,"v":4.7},{"i":102,"a":68,"v":3.1},
      {"i":103,"a":65,"v":3.7},{"i":103,"a":66,"v":1.8},{"i":103,"a":67,"v":4.4},{"i":103,"a":68,"v":2.8},{"i":103,"a":69,"v":5.0},
      {"i":104,"a":65,"v":2.1},{"i":104,"a":66,"v":4.0},{"i":104,"a":67,"v":2.4},{"i":104,"a":68,"v":4.7},{"i":104,"a":69,"v":2.8},
      {"i":105,"a":66,"v":4.4},{"i":105,"a":67,"v":2.8},{"i":105,"a":68,"v":5.0},{"i":105,"a":69,"v":2.4},{"i":105,"a":70,"v":4.0},
      {"i":106,"a":66,"v":3.1},{"i":106,"a":67,"v":4.7},{"i":106,"a":68,"v":1.8},{"i":106,"a":69,"v":3.7},{"i":106,"a":70,"v":2.4},
      {"i":107,"a":67,"v":1.8},{"i":107,"a":68,"v":3.7},{"i":107,"a":69,"v":2.8},{"i":107,"a":70,"v":4.7},{"i":107,"a":71,"v":2.1},
      {"i":108,"a":67,"v":5.0},{"i":108,"a":68,"v":3.1},{"i":108,"a":69,"v":4.4},{"i":108,"a":70,"v":2.1},{"i":108,"a":71,"v":3.4},
      {"i":109,"a":68,"v":3.4},{"i":109,"a":69,"v":2.1},{"i":109,"a":70,"v":4.7},{"i":109,"a":71,"v":2.8},{"i":109,"a":72,"v":4.4},
      {"i":110,"a":68,"v":2.4},{"i":110,"a":69,"v":4.4},{"i":110,"a":70,"v":3.1},{"i":110,"a":71,"v":5.0},{"i":110,"a":72,"v":1.8},
      {"i":111,"a":69,"v":4.0},{"i":111,"a":70,"v":2.4},{"i":111,"a":71,"v":3.7},{"i":111,"a":72,"v":1.8},{"i":111,"a":73,"v":4.7},
      {"i":112,"a":69,"v":2.8},{"i":112,"a":70,"v":5.0},{"i":112,"a":71,"v":2.1},{"i":112,"a":72,"v":4.0},{"i":112,"a":73,"v":3.1},
      {"i":113,"a":70,"v":4.7},{"i":113,"a":71,"v":3.1},{"i":113,"a":72,"v":4.4},{"i":113,"a":73,"v":2.4},{"i":113,"a":74,"v":3.7},
      {"i":114,"a":70,"v":2.1},{"i":114,"a":71,"v":3.7},{"i":114,"a":72,"v":1.8},{"i":114,"a":73,"v":4.4},{"i":114,"a":74,"v":2.8},
      {"i":115,"a":71,"v":3.7},{"i":115,"a":72,"v":1.8},{"i":115,"a":73,"v":4.7},{"i":115,"a":74,"v":3.1},{"i":115,"a":75,"v":5.0},
      {"i":116,"a":71,"v":3.1},{"i":116,"a":72,"v":4.7},{"i":116,"a":73,"v":2.4},{"i":116,"a":74,"v":4.0},{"i":116,"a":75,"v":2.1},
      {"i":117,"a":72,"v":4.4},{"i":117,"a":73,"v":2.8},{"i":117,"a":74,"v":4.0},{"i":117,"a":75,"v":1.8},{"i":117,"a":76,"v":3.4},
      {"i":118,"a":72,"v":1.8},{"i":118,"a":73,"v":4.0},{"i":118,"a":74,"v":2.8},{"i":118,"a":75,"v":4.7},{"i":118,"a":76,"v":2.4},
      {"i":119,"a":73,"v":5.0},{"i":119,"a":74,"v":3.4},{"i":119,"a":75,"v":4.7},{"i":119,"a":76,"v":2.4},{"i":119,"a":77,"v":4.0},
      {"i":120,"a":73,"v":2.4},{"i":120,"a":74,"v":4.4},{"i":120,"a":75,"v":2.1},{"i":120,"a":76,"v":3.7},{"i":120,"a":77,"v":1.8},
      {"i":121,"a":74,"v":4.0},{"i":121,"a":75,"v":2.1},{"i":121,"a":76,"v":3.4},{"i":121,"a":77,"v":4.7},{"i":121,"a":78,"v":2.8},
      {"i":122,"a":74,"v":2.8},{"i":122,"a":75,"v":4.7},{"i":122,"a":76,"v":1.8},{"i":122,"a":77,"v":4.4},{"i":122,"a":78,"v":3.1},
      {"i":123,"a":75,"v":4.7},{"i":123,"a":76,"v":2.4},{"i":123,"a":77,"v":3.7},{"i":123,"a":78,"v":2.1},{"i":123,"a":79,"v":4.4},
      {"i":124,"a":76,"v":2.1},{"i":124,"a":77,"v":4.0},{"i":124,"a":78,"v":2.8},{"i":124,"a":79,"v":5.0},{"i":124,"a":80,"v":2.4},
      {"i":125,"a":77,"v":3.7},{"i":125,"a":78,"v":1.8},{"i":125,"a":79,"v":4.4},{"i":125,"a":80,"v":3.1},{"i":125,"a":81,"v":4.7},
      {"i":126,"a":78,"v":3.1},{"i":126,"a":79,"v":4.7},{"i":126,"a":80,"v":2.4},{"i":126,"a":81,"v":4.0},{"i":126,"a":82,"v":1.8},
      {"i":127,"a":79,"v":4.4},{"i":127,"a":80,"v":2.4},{"i":127,"a":81,"v":5.0},{"i":127,"a":82,"v":2.8},{"i":127,"a":83,"v":3.7},
      {"i":128,"a":80,"v":1.8},{"i":128,"a":81,"v":3.7},{"i":128,"a":82,"v":2.4},{"i":128,"a":83,"v":4.4},{"i":128,"a":84,"v":3.1},
      {"i":129,"a":81,"v":4.0},{"i":129,"a":82,"v":2.1},{"i":129,"a":83,"v":4.7},{"i":129,"a":84,"v":2.8},{"i":129,"a":85,"v":3.4},
      {"i":130,"a":82,"v":2.8},{"i":130,"a":83,"v":4.4},{"i":130,"a":84,"v":1.8},{"i":130,"a":85,"v":3.7},{"i":130,"a":86,"v":2.4}
    ]
  },
  "vconcat": [
    {
      "spacing": 26,
      "vconcat": [
        {
          "hconcat": [
            {
              "width": 380, "height": 254,
              "encoding": {
                "x": {"field": "a", "type": "quantitative", "title": "Age (years)", "scale": {"domain": [55, 100], "nice": false}, "axis": {"values": [60, 70, 80, 90, 100]}},
                "y": {"field": "v", "type": "quantitative", "title": "BMI (kg/m²)", "scale": {"domain": [14.6, 38.6], "nice": false, "zero": false}, "axis": {"values": [18, 24, 30, 36]}}
              },
              "layer": [
                {"data": {"name": "bmi"}, "mark": {"type": "line", "point": {"shape": "triangle-up", "size": 14, "color": "#a8a8a8", "filled": true}}, "encoding": {"detail": {"field": "i", "type": "nominal"}}},
                {"data": {"name": "fit"}, "transform": [{"filter": "datum.p == 'bmi'"}], "mark": {"type": "line", "color": "#000", "strokeWidth": 3}, "encoding": {}},
                {"data": {"name": "lab"}, "transform": [{"filter": "datum.p == 'bmi'"}], "mark": {"type": "text", "fontSize": 16, "color": "#000"}, "encoding": {"text": {"field": "t"}}}
              ]
            },
            {
              "width": 382, "height": 254,
              "encoding": {
                "x": {"field": "a", "type": "quantitative", "title": "Age (years)", "scale": {"domain": [55, 100], "nice": false}, "axis": {"values": [60, 70, 80, 90, 100]}},
                "y": {"field": "v", "type": "quantitative", "title": "Waistline (cm)", "scale": {"domain": [34.6, 130.4], "nice": false, "zero": false}, "axis": {"values": [48, 72, 96, 120]}}
              },
              "layer": [
                {"data": {"name": "waist"}, "mark": {"type": "line", "point": {"shape": "triangle-up", "size": 14, "color": "#a8a8a8", "filled": true}}, "encoding": {"detail": {"field": "i", "type": "nominal"}}},
                {"data": {"name": "fit"}, "transform": [{"filter": "datum.p == 'waist'"}], "mark": {"type": "line", "color": "#000", "strokeWidth": 3}, "encoding": {}},
                {"data": {"name": "lab"}, "transform": [{"filter": "datum.p == 'waist'"}], "mark": {"type": "text", "fontSize": 16, "color": "#000"}, "encoding": {"text": {"field": "t"}}}
              ]
            }
          ]
        },
        {
          "hconcat": [
            {
              "width": 380, "height": 255,
              "encoding": {
                "x": {"field": "a", "type": "quantitative", "title": "Age (years)", "scale": {"domain": [55, 100], "nice": false}, "axis": {"values": [60, 70, 80, 90, 100]}},
                "y": {"field": "v", "type": "quantitative", "title": "SBP (mmHg )", "scale": {"domain": [57.6, 257], "nice": false, "zero": false}, "axis": {"values": [100, 150, 200, 250]}}
              },
              "layer": [
                {"data": {"name": "sbp"}, "mark": {"type": "line", "point": {"shape": "triangle-up", "size": 14, "color": "#a8a8a8", "filled": true}}, "encoding": {"detail": {"field": "i", "type": "nominal"}}},
                {"data": {"name": "fit"}, "transform": [{"filter": "datum.p == 'sbp'"}], "mark": {"type": "line", "color": "#000", "strokeWidth": 3}, "encoding": {}},
                {"data": {"name": "lab"}, "transform": [{"filter": "datum.p == 'sbp'"}], "mark": {"type": "text", "fontSize": 16, "color": "#000"}, "encoding": {"text": {"field": "t"}}}
              ]
            },
            {
              "width": 382, "height": 255,
              "encoding": {
                "x": {"field": "a", "type": "quantitative", "title": "Age (years)", "scale": {"domain": [55, 100], "nice": false}, "axis": {"values": [60, 70, 80, 90, 100]}},
                "y": {"field": "v", "type": "quantitative", "title": "DBP (mmHg )", "scale": {"domain": [34.6, 129.7], "nice": false, "zero": false}, "axis": {"values": [48, 72, 96, 120]}}
              },
              "layer": [
                {"data": {"name": "dbp"}, "mark": {"type": "line", "point": {"shape": "triangle-up", "size": 14, "color": "#a8a8a8", "filled": true}}, "encoding": {"detail": {"field": "i", "type": "nominal"}}},
                {"data": {"name": "fit"}, "transform": [{"filter": "datum.p == 'dbp'"}], "mark": {"type": "line", "color": "#000", "strokeWidth": 3}, "encoding": {}},
                {"data": {"name": "lab"}, "transform": [{"filter": "datum.p == 'dbp'"}], "mark": {"type": "text", "fontSize": 16, "color": "#000"}, "encoding": {"text": {"field": "t"}}}
              ]
            }
          ]
        }
      ]
    },
    {
      "spacing": 34,
      "vconcat": [
        {
          "hconcat": [
            {
              "width": 380, "height": 273,
              "encoding": {
                "x": {"field": "a", "type": "quantitative", "title": "Age (years)", "scale": {"domain": [55, 100], "nice": false}, "axis": {"values": [60, 70, 80, 90, 100]}},
                "y": {"field": "v", "type": "quantitative", "title": "Urea (mmol/L )", "scale": {"domain": [1, 14], "nice": false, "zero": false}, "axis": {"values": [3, 6, 9, 12]}}
              },
              "layer": [
                {"data": {"name": "urea"}, "mark": {"type": "line", "point": {"shape": "triangle-up", "size": 14, "color": "#a8a8a8", "filled": true}}, "encoding": {"detail": {"field": "i", "type": "nominal"}}},
                {"data": {"name": "fit"}, "transform": [{"filter": "datum.p == 'urea'"}], "mark": {"type": "line", "color": "#000", "strokeWidth": 3}, "encoding": {}},
                {"data": {"name": "lab"}, "transform": [{"filter": "datum.p == 'urea'"}], "mark": {"type": "text", "fontSize": 16, "color": "#000"}, "encoding": {"text": {"field": "t"}}}
              ]
            },
            {
              "width": 382, "height": 273,
              "encoding": {
                "x": {"field": "a", "type": "quantitative", "title": "Age (years)", "scale": {"domain": [55, 100], "nice": false}, "axis": {"values": [60, 70, 80, 90, 100]}},
                "y": {"field": "v", "type": "quantitative", "title": "TB（mmol/L)", "scale": {"domain": [2.2, 50.3], "nice": false, "zero": false}, "axis": {"values": [12, 24, 36, 48]}}
              },
              "layer": [
                {"data": {"name": "tb"}, "mark": {"type": "line", "point": {"shape": "triangle-up", "size": 14, "color": "#a8a8a8", "filled": true}}, "encoding": {"detail": {"field": "i", "type": "nominal"}}},
                {"data": {"name": "fit"}, "transform": [{"filter": "datum.p == 'tb'"}], "mark": {"type": "line", "color": "#000", "strokeWidth": 3}, "encoding": {}},
                {"data": {"name": "lab"}, "transform": [{"filter": "datum.p == 'tb'"}], "mark": {"type": "text", "fontSize": 16, "color": "#000"}, "encoding": {"text": {"field": "t"}}}
              ]
            }
          ]
        },
        {
          "hconcat": [
            {
              "width": 380, "height": 271,
              "encoding": {
                "x": {"field": "a", "type": "quantitative", "title": "Age (years)", "scale": {"domain": [55, 100], "nice": false}, "axis": {"values": [60, 70, 80, 90, 100]}},
                "y": {"field": "v", "type": "quantitative", "title": "FLD index", "scale": {"domain": [16.1, 48], "nice": false, "zero": false}, "axis": {"values": [24, 32, 40, 48]}}
              },
              "layer": [
                {"data": {"name": "fld"}, "mark": {"type": "line", "point": {"shape": "triangle-up", "size": 14, "color": "#a8a8a8", "filled": true}}, "encoding": {"detail": {"field": "i", "type": "nominal"}}},
                {"data": {"name": "fit"}, "transform": [{"filter": "datum.p == 'fld'"}], "mark": {"type": "line", "color": "#000", "strokeWidth": 3}, "encoding": {}},
                {"data": {"name": "lab"}, "transform": [{"filter": "datum.p == 'fld'"}], "mark": {"type": "text", "fontSize": 16, "color": "#000"}, "encoding": {"text": {"field": "t"}}}
              ]
            },
            {
              "width": 382, "height": 271,
              "encoding": {
                "x": {"field": "a", "type": "quantitative", "title": "Age (years)", "scale": {"domain": [55, 100], "nice": false}, "axis": {"values": [60, 70, 80, 90, 100]}},
                "y": {"field": "v", "type": "quantitative", "title": "MS score", "scale": {"domain": [0.85, 7.62], "nice": false, "zero": false}, "axis": {"values": [1.7, 3.4, 5.1, 6.8], "format": ".1f"}}
              },
              "layer": [
                {"data": {"name": "ms"}, "mark": {"type": "line", "point": {"shape": "triangle-up", "size": 14, "color": "#a8a8a8", "filled": true}}, "encoding": {"detail": {"field": "i", "type": "nominal"}}},
                {"data": {"name": "fit"}, "transform": [{"filter": "datum.p == 'ms'"}], "mark": {"type": "line", "color": "#000", "strokeWidth": 3}, "encoding": {}},
                {"data": {"name": "lab"}, "transform": [{"filter": "datum.p == 'ms'"}], "mark": {"type": "text", "fontSize": 16, "color": "#000"}, "encoding": {"text": {"field": "t"}}}
              ]
            }
          ]
        }
      ]
    }
  ]
}
